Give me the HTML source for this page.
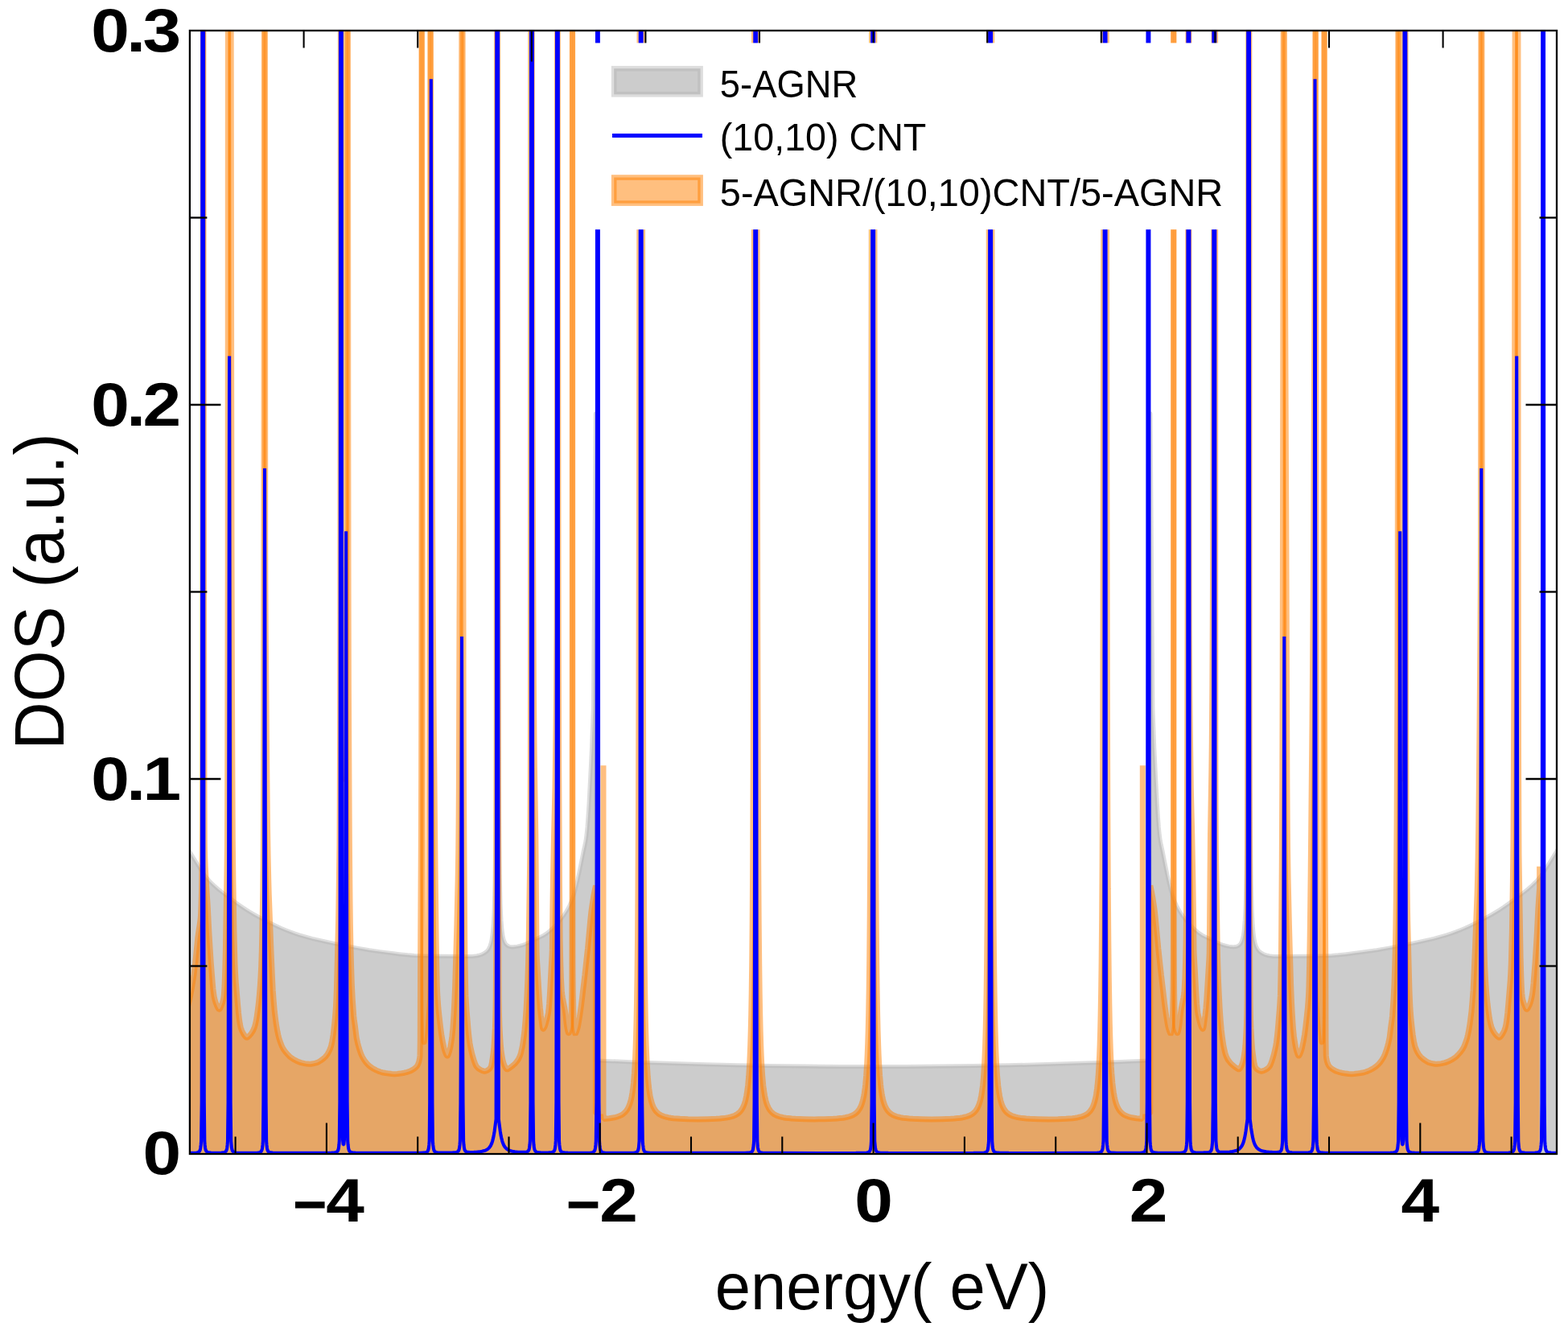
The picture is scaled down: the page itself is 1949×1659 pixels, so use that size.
<!DOCTYPE html>
<html lang="en"><head><meta charset="utf-8"><title>DOS</title>
<style>
html,body{margin:0;padding:0;background:#fff;}
body{width:1949px;height:1659px;overflow:hidden;}
svg{display:block;}
text{fill:#000;}
</style></head><body>
<svg width="1949" height="1659" viewBox="0 0 1949 1659">
<rect width="1949" height="1659" fill="#fff"/>
<defs><clipPath id="c"><rect x="235.9" y="38" width="1699.1" height="1396"/></clipPath></defs>
<g clip-path="url(#c)">
<path d="M226,1453 226,1042.4 247,1076.6 251,1082.8 254,1087.1 257,1091 261,1095.4 263,1097.4 266,1100.3 271,1104.7 275,1107.9 281,1112.6 288,1117.8 295,1122.9 301,1127.1 306,1130.4 311,1133.5 316,1136.5 321,1139.3 329,1143.5 336,1147.1 343,1150.4 349,1153.2 355,1155.7 361,1158.1 366,1159.9 372,1161.9 380,1164.2 388,1166.4 396,1168.3 405,1170.3 415,1172.4 432,1175.8 444,1178.1 459,1180.7 472,1182.6 489,1184.8 498,1185.9 507,1186.8 515,1187.4 521,1187.7 527,1187.9 548,1188.3 583,1188.4 587,1188.4 591,1188.1 593,1187.8 595,1187.3 598,1186.4 601,1185 603,1183.8 604,1183 605,1182.2 606,1181.1 607,1179.8 608,1178 609,1175.8 610,1172.8 611,1168.6 612.2,1160.6 613.2,1149.3 614,1134.4 614.2,1129.2 615,1098.8 615.7,1047.4 616.2,978.4 616.7,846.8 617,705.5 617.7,68.7 618.7,68.4 619.2,564.3 619.7,846 620.2,977.3 620.7,1046.1 621.2,1085.8 622,1121.2 622.2,1127.1 623,1143.7 624,1155.7 625,1162.8 626,1167.2 627,1170.2 628,1172.2 629,1173.6 630,1174.6 631,1175.3 632,1175.8 633,1176.2 634,1176.4 636,1176.7 638,1176.7 640,1176.6 643,1176.1 646,1175.5 650,1174.4 653,1173.3 657,1171.6 665,1167.6 671,1164.8 674,1163.3 676,1162.2 678,1160.9 682,1157.9 684,1156.2 687,1153.5 689,1151.6 691,1149.6 694,1146.2 698,1141.2 701,1137.1 704,1132.5 706,1129 708,1125.1 710,1120.8 712,1115.8 713,1112.9 714,1109.6 715,1105.9 718,1093.2 720,1084.1 725,1058.9 727,1049.9 728,1044.8 729,1037.9 730,1027.7 731,1014.3 732,998.3 734,960.8 735.5,929.8 737.4,880 740.3,514.1 740.9,1318.1 741,1318 789,1319.9 837,1321.6 877,1322.8 917,1323.8 957,1324.5 1001,1325.1 1045,1325.5 1085,1325.6 1125.3,1325.5 1169.3,1325.1 1209.3,1324.6 1253.3,1323.8 1293.3,1322.8 1333.3,1321.6 1381.3,1319.9 1429.3,1318 1429.4,1318.1 1430,514.1 1432.9,880 1434.8,929.8 1436.3,960.8 1438.3,998.3 1439.3,1014.3 1440.3,1027.7 1441.3,1037.9 1442.3,1044.8 1443.3,1049.9 1445.3,1058.9 1449.3,1079.3 1451.3,1088.7 1453.3,1097.6 1455.3,1105.9 1456.3,1109.6 1457.3,1112.9 1458.3,1115.8 1460.3,1120.8 1462.3,1125.1 1464.3,1129 1466.3,1132.5 1468.3,1135.6 1470.3,1138.5 1473.3,1142.5 1477.3,1147.3 1479.3,1149.6 1481.3,1151.6 1483.3,1153.5 1486.3,1156.2 1489.3,1158.7 1491.3,1160.2 1494.3,1162.2 1497.3,1163.8 1504.3,1167.1 1512.3,1171.1 1515.3,1172.5 1517.3,1173.3 1519.3,1174.1 1522.3,1175 1524.3,1175.5 1527.3,1176.1 1529.3,1176.4 1531.3,1176.6 1533.3,1176.7 1535.3,1176.6 1536.3,1176.4 1537.3,1176.2 1538.3,1175.8 1539.3,1175.3 1540.3,1174.6 1541.3,1173.6 1542.1,1172.5 1543.3,1170.2 1544.1,1167.9 1545.3,1162.8 1546.3,1155.7 1547.3,1143.7 1548.1,1127.1 1548.3,1121.2 1549.1,1085.8 1549.6,1046.1 1550.1,977.3 1550.6,846 1551.1,564.3 1551.6,68.4 1552.6,68.7 1553.3,705.5 1553.6,846.8 1554.1,978.4 1554.6,1047.4 1555.3,1098.8 1556.1,1129.2 1556.3,1134.4 1557.1,1149.3 1558.1,1160.6 1559.3,1168.6 1560.3,1172.8 1561.3,1175.8 1562.3,1178 1563.3,1179.8 1564.3,1181.1 1565.3,1182.2 1566.3,1183 1567.3,1183.8 1569.3,1185 1572.3,1186.4 1575.3,1187.3 1577.3,1187.8 1579.3,1188.1 1583.3,1188.4 1587.3,1188.4 1622.3,1188.3 1643.3,1187.9 1649.3,1187.7 1655.3,1187.4 1663.3,1186.8 1672.3,1185.9 1681.3,1184.8 1698.3,1182.6 1711.3,1180.7 1726.3,1178.1 1738.3,1175.8 1755.3,1172.4 1765.3,1170.3 1774.3,1168.3 1782.3,1166.4 1790.3,1164.2 1798.3,1161.9 1804.3,1159.9 1809.3,1158.1 1815.3,1155.7 1821.3,1153.2 1827.3,1150.4 1834.3,1147.1 1841.3,1143.5 1849.3,1139.3 1854.3,1136.5 1859.3,1133.5 1864.3,1130.4 1869.3,1127.1 1875.3,1122.9 1882.3,1117.8 1889.3,1112.6 1895.3,1107.9 1899.3,1104.7 1904.3,1100.3 1907.3,1097.4 1909.3,1095.4 1913.3,1091 1916.3,1087.1 1919.3,1082.8 1923.3,1076.6 1944.3,1042.4 1944.3,1453Z" fill="#808080" fill-opacity="0.4"/>
<path d="M226,1042.4 247,1076.6 251,1082.8 254,1087.1 257,1091 261,1095.4 263,1097.4 266,1100.3 271,1104.7 275,1107.9 281,1112.6 288,1117.8 295,1122.9 301,1127.1 306,1130.4 311,1133.5 316,1136.5 321,1139.3 329,1143.5 336,1147.1 343,1150.4 349,1153.2 355,1155.7 361,1158.1 366,1159.9 372,1161.9 380,1164.2 388,1166.4 396,1168.3 405,1170.3 415,1172.4 432,1175.8 444,1178.1 459,1180.7 472,1182.6 489,1184.8 498,1185.9 507,1186.8 515,1187.4 521,1187.7 527,1187.9 548,1188.3 583,1188.4 587,1188.4 591,1188.1 593,1187.8 595,1187.3 598,1186.4 601,1185 603,1183.8 604,1183 605,1182.2 606,1181.1 607,1179.8 608,1178 609,1175.8 610,1172.8 611,1168.6 612.2,1160.6 613.2,1149.3 614,1134.4 614.2,1129.2 615,1098.8 615.7,1047.4 616.2,978.4 616.7,846.8 617,705.5 617.7,68.7 618.7,68.4 619.2,564.3 619.7,846 620.2,977.3 620.7,1046.1 621.2,1085.8 622,1121.2 622.2,1127.1 623,1143.7 624,1155.7 625,1162.8 626,1167.2 627,1170.2 628,1172.2 629,1173.6 630,1174.6 631,1175.3 632,1175.8 633,1176.2 634,1176.4 636,1176.7 638,1176.7 640,1176.6 643,1176.1 646,1175.5 650,1174.4 653,1173.3 657,1171.6 665,1167.6 671,1164.8 674,1163.3 676,1162.2 678,1160.9 682,1157.9 684,1156.2 687,1153.5 689,1151.6 691,1149.6 694,1146.2 698,1141.2 701,1137.1 704,1132.5 706,1129 708,1125.1 710,1120.8 712,1115.8 713,1112.9 714,1109.6 715,1105.9 718,1093.2 720,1084.1 725,1058.9 727,1049.9 728,1044.8 729,1037.9 730,1027.7 731,1014.3 732,998.3 734,960.8 735.5,929.8 737.4,880 740.3,514.1 740.9,1318.1 741,1318 789,1319.9 837,1321.6 877,1322.8 917,1323.8 957,1324.5 1001,1325.1 1045,1325.5 1085,1325.6 1125.3,1325.5 1169.3,1325.1 1209.3,1324.6 1253.3,1323.8 1293.3,1322.8 1333.3,1321.6 1381.3,1319.9 1429.3,1318 1429.4,1318.1 1430,514.1 1432.9,880 1434.8,929.8 1436.3,960.8 1438.3,998.3 1439.3,1014.3 1440.3,1027.7 1441.3,1037.9 1442.3,1044.8 1443.3,1049.9 1445.3,1058.9 1449.3,1079.3 1451.3,1088.7 1453.3,1097.6 1455.3,1105.9 1456.3,1109.6 1457.3,1112.9 1458.3,1115.8 1460.3,1120.8 1462.3,1125.1 1464.3,1129 1466.3,1132.5 1468.3,1135.6 1470.3,1138.5 1473.3,1142.5 1477.3,1147.3 1479.3,1149.6 1481.3,1151.6 1483.3,1153.5 1486.3,1156.2 1489.3,1158.7 1491.3,1160.2 1494.3,1162.2 1497.3,1163.8 1504.3,1167.1 1512.3,1171.1 1515.3,1172.5 1517.3,1173.3 1519.3,1174.1 1522.3,1175 1524.3,1175.5 1527.3,1176.1 1529.3,1176.4 1531.3,1176.6 1533.3,1176.7 1535.3,1176.6 1536.3,1176.4 1537.3,1176.2 1538.3,1175.8 1539.3,1175.3 1540.3,1174.6 1541.3,1173.6 1542.1,1172.5 1543.3,1170.2 1544.1,1167.9 1545.3,1162.8 1546.3,1155.7 1547.3,1143.7 1548.1,1127.1 1548.3,1121.2 1549.1,1085.8 1549.6,1046.1 1550.1,977.3 1550.6,846 1551.1,564.3 1551.6,68.4 1552.6,68.7 1553.3,705.5 1553.6,846.8 1554.1,978.4 1554.6,1047.4 1555.3,1098.8 1556.1,1129.2 1556.3,1134.4 1557.1,1149.3 1558.1,1160.6 1559.3,1168.6 1560.3,1172.8 1561.3,1175.8 1562.3,1178 1563.3,1179.8 1564.3,1181.1 1565.3,1182.2 1566.3,1183 1567.3,1183.8 1569.3,1185 1572.3,1186.4 1575.3,1187.3 1577.3,1187.8 1579.3,1188.1 1583.3,1188.4 1587.3,1188.4 1622.3,1188.3 1643.3,1187.9 1649.3,1187.7 1655.3,1187.4 1663.3,1186.8 1672.3,1185.9 1681.3,1184.8 1698.3,1182.6 1711.3,1180.7 1726.3,1178.1 1738.3,1175.8 1755.3,1172.4 1765.3,1170.3 1774.3,1168.3 1782.3,1166.4 1790.3,1164.2 1798.3,1161.9 1804.3,1159.9 1809.3,1158.1 1815.3,1155.7 1821.3,1153.2 1827.3,1150.4 1834.3,1147.1 1841.3,1143.5 1849.3,1139.3 1854.3,1136.5 1859.3,1133.5 1864.3,1130.4 1869.3,1127.1 1875.3,1122.9 1882.3,1117.8 1889.3,1112.6 1895.3,1107.9 1899.3,1104.7 1904.3,1100.3 1907.3,1097.4 1909.3,1095.4 1913.3,1091 1916.3,1087.1 1919.3,1082.8 1923.3,1076.6 1944.3,1042.4" fill="none" stroke="#b4b4b4" stroke-opacity="0.45" stroke-width="5" stroke-linejoin="round"/>
<path d="M226,1453 226,1274.9 228.9,1266.3 231.3,1258.5 233.3,1251.1 235.2,1243.8 236.6,1237.3 238.2,1228.5 239.6,1220.3 241,1211.2 242,1202.9 242.8,1196.3 245,1173.3 245.8,1165.4 246.5,1160.1 248.4,1147.9 248.9,1144 249.3,1140.6 249.6,1135.6 250.1,1122.8 250.5,1109.3 250.8,1094.3 251.2,1062.6 251.5,1023.7 251.7,944.7 251.9,832.3 252.2,457.5 252.5,-148 252.8,-148 253,201 253.7,847.4 254,977.1 254.3,1047.2 254.5,1057.1 254.8,1067.2 255.2,1077.5 255.8,1088.5 258.3,1128 259.9,1159.6 261.2,1180.2 262.3,1197.2 264.3,1222.3 264.9,1229.1 265.6,1234.5 266.2,1238.6 267.1,1242.5 268.3,1246.4 269.6,1249.7 270.6,1251.9 271.4,1253.2 271.9,1253.9 272.3,1254.1 272.5,1254.2 272.8,1254.1 273,1254 273.5,1253.3 274.1,1252.2 275.1,1249.9 276.4,1246.4 277.4,1242.7 277.9,1240 278.3,1236.7 278.7,1231.6 279.1,1225 279.8,1204.8 280.4,1181.4 282,1083.1 282.4,1052.2 282.6,1002.7 282.8,923.3 283.2,707.3 283.4,-148 287.1,-148 287.2,67.6 287.4,247.9 287.7,497.6 288,690.6 288.4,837.5 288.9,961.4 289.3,1042.9 289.9,1095.2 290.9,1157.7 291.5,1180 292,1198 292.5,1208.8 293.1,1219.1 293.9,1228.9 295.6,1248.8 296.5,1258.8 297.4,1266.6 298.3,1272.5 299.2,1276.7 299.8,1278.6 300.6,1280.7 301.6,1282.7 302.5,1284.5 304.3,1287.2 305.2,1288.3 306,1289.1 306.5,1289.3 306.8,1289.3 307.2,1289.3 307.7,1289.1 308.7,1288.3 310.3,1286.7 312.2,1284.5 313.4,1282.6 314.6,1280.6 315.5,1278.5 316.4,1276.4 317,1274.3 317.6,1271.9 318.9,1265.4 320.1,1257.1 321.3,1247.5 322.4,1236 323.4,1223.7 324.1,1212.5 324.7,1200.4 325.3,1182.7 325.8,1161.3 326.8,1106.9 327.2,1074.4 327.4,1042.1 327.6,976.4 327.8,879.5 328.2,365.3 328.4,-148 329.4,-148 329.7,569.3 329.7,662.5 329.9,722.9 330.3,785.9 331.3,906.7 331.9,972.4 332.5,1026.4 333.1,1063.7 333.7,1091.1 334.2,1109.8 335.6,1146.7 336.8,1177.4 338.4,1213.8 339.2,1230.5 340.2,1243.9 341.3,1256.8 343.1,1271.1 343.9,1276.1 344.9,1281.8 345.8,1286 346.7,1289.7 347.9,1293.5 349.2,1297.2 350.5,1300.3 351.9,1303 353.6,1305.6 355.7,1308.3 357.9,1310.8 360.1,1312.9 362.7,1314.9 365.2,1316.6 368.3,1318.2 371.4,1319.6 374.3,1320.6 378.7,1321.6 381.7,1322.1 384.3,1322.3 386.4,1322.2 388.9,1321.8 392,1321.1 394.5,1320.4 396.1,1319.6 398,1318.4 400.8,1316.5 402.9,1314.8 404.5,1313.3 405.7,1311.8 407,1310 408.3,1307.7 409.7,1304.9 410.6,1302.7 411.4,1300.4 412.1,1297.6 412.8,1294.2 413.5,1290 414.1,1286 414.7,1281.2 416.3,1266.5 416.9,1258.8 417.4,1252.3 417.9,1241.8 418.4,1229.6 420.1,1164.5 420.6,1144.7 420.9,1127.7 422,1050.1 422.3,996.5 422.6,904.4 422.9,761.4 423,575.2 423.4,-148 424.4,-148 424.5,101.1 424.8,366.9 425.1,582.4 425.5,726.3 425.8,796.9 426.4,865.4 427.4,946.3 427.7,962.8 427.9,966.7 428,968 428.1,966.7 428.3,962.8 428.6,946.3 429.6,865.4 430.2,798.6 430.5,730.2 430.9,574.9 431.2,338.3 431.4,92.4 431.4,-148 432.4,-148 432.6,164.3 432.8,513.1 433.1,738 433.4,857 434.2,1022.6 434.5,1062.6 435,1118.2 435.4,1148.7 435.9,1176.1 436.5,1198.6 437.3,1222.6 438.2,1241 439.7,1262.3 440.2,1266.7 441.5,1276 442.8,1286.6 443.2,1289.7 443.9,1293 444.7,1296.6 445.8,1300.7 446.8,1304.1 447.9,1307.3 448.9,1310.1 450,1312.5 451.2,1314.8 452.7,1317.3 454.6,1319.9 456.6,1322.2 458.4,1324 460.2,1325.5 462.4,1327 464.7,1328.4 467.5,1329.9 470.3,1331.1 472.8,1332 475,1332.7 479.4,1333.5 483.4,1334.1 487,1334.5 490.3,1334.7 493.8,1334.5 497.5,1334.1 502.5,1333.2 506.1,1332.3 509.1,1331.3 511.8,1330 514.3,1328.5 516.5,1326.8 517.9,1325.4 518.9,1323.9 519.9,1321.8 520.7,1319.4 521.4,1316.4 521.8,1313.9 522,1311.2 522.1,1306.6 522.3,1292.7 522.6,1189.2 523.3,1059.3 523.6,963.6 523.8,845.2 524,602.7 524.1,-148 524.3,-148 524.4,129.4 525.2,692.6 525.5,1072.1 525.8,1156 526.2,1231.3 526.4,1258.3 526.8,1282.1 527,1291.8 527.1,1294.1 527.2,1294.9 527.4,1294 527.7,1291.3 528.5,1282.2 529.5,1267 530.7,1249.8 531.1,1243.5 531.3,1237.1 531.9,1212.2 532.6,1172.3 532.9,1146.5 533.1,1115.8 533.8,915.4 534.3,656.7 534.7,224.7 534.8,-148 535.4,-148 535.5,56.8 535.7,181.5 536.5,408.7 537.5,644.6 538.2,762.1 539.3,899.3 541.1,1083.8 542.1,1164.4 542.7,1200.1 543.3,1225.1 543.6,1233.1 543.9,1239.1 544.4,1245.9 544.9,1252.7 546,1263.1 547.6,1276.9 548.8,1285.8 550.1,1293.5 551.7,1301.2 552.3,1303.8 553,1306.1 553.6,1307.7 554.8,1310.7 555.5,1311.7 555.7,1312 556,1312.1 556.2,1312 556.5,1311.8 557,1310.9 557.6,1309.3 558.6,1306.2 559.8,1301.2 560.9,1294.9 561.9,1287.7 562.8,1278.9 563.5,1268.7 564.2,1257.5 564.9,1243.8 565.7,1224.4 567,1180.9 567.9,1148.6 569.2,1092.1 569.8,1054.9 570.1,1023.4 570.4,977 571,774.1 572.7,375 573.4,194.4 573.8,56.3 573.9,-148 575.1,-148 575.2,88.7 575.4,345.5 575.8,649.2 576.1,839.5 576.5,970.2 577,1071.8 577.7,1167.4 578,1195.2 578.4,1216.2 578.7,1229.3 578.9,1237.4 579.4,1245.9 580,1255 581.9,1278 582.8,1287.3 583.9,1295.8 584.5,1299.6 585.3,1303.3 586.9,1310.2 588.9,1317 589.8,1319.7 590.6,1321.8 591.3,1323.5 592.1,1325 592.9,1326 593.8,1327 595,1328 596.2,1328.8 597.6,1329.6 600.1,1330.7 601.3,1331 602.4,1331.2 603.3,1331.1 604.2,1330.8 605.2,1330.4 606.5,1329.8 608,1328.7 609.2,1327.3 610,1326 610.6,1324.4 611.2,1321.8 611.8,1318.4 612.9,1310.5 613.7,1304 614.2,1297.4 614.7,1289.6 615.4,1277.7 615.8,1266.3 616.1,1254.4 616.3,1241.5 616.6,1195.9 616.8,1131.1 617.2,926.1 617.3,617.9 617.5,-148 618.5,-148 618.7,224.5 619.4,920.3 619.8,1151.6 619.9,1203.9 620.1,1240.9 620.4,1258.8 620.9,1274.9 621.4,1284.5 622,1294.2 622.4,1299.4 622.9,1304.4 623.5,1309.2 624.3,1313.9 625,1317.6 625.9,1320.8 626.8,1323.6 628.4,1326.9 628.9,1327.7 629.4,1328.3 629.9,1328.7 630.3,1328.8 631.1,1328.7 632.1,1328.1 635.7,1325.6 637.9,1323.8 639.6,1322.2 641.1,1320.7 642.5,1318.9 643.8,1317.1 644.7,1315.6 645.4,1314.1 646.2,1312.3 646.9,1310.4 647.6,1307.9 648.2,1305.3 649.4,1299.7 650.8,1290.3 652.1,1279.4 653.1,1267.9 654.1,1253.8 655,1237 655.9,1217 656.6,1196.1 657.1,1176.3 658.5,1084.3 658.9,1054.2 659.2,1004.1 659.4,934.9 659.6,728.7 659.8,-148 661.2,-148 661.3,47.8 661.4,148.8 661.7,339.5 662.2,542.8 662.6,680.8 663,774.3 663.4,851.4 664,922.3 664.4,953.8 665.8,1037.3 666.3,1095.8 666.9,1169.3 667.1,1184.2 667.4,1191.7 669.5,1226.6 670.5,1242 671.3,1252.3 672.3,1261.6 673.9,1273.5 674.2,1275.7 674.7,1277.7 675,1278.4 675.2,1278.6 675.5,1278.5 675.8,1278 676.8,1276.4 677.4,1275 678,1273.2 679.8,1266.4 680.7,1262.6 681.4,1259.1 681.9,1255.5 682.6,1248 683.3,1237.8 684,1225.1 685.1,1204.2 686.1,1186.5 686.3,1180.9 686.4,1172.5 686.9,1130.9 687.5,1091.7 688.6,1035.7 690,978.8 691,908.8 691.5,864.8 691.8,822.2 692.1,780.3 692.2,738.8 692.4,465.9 692.5,-148 693.2,-148 693.5,244.4 694.1,733.1 694.4,848.5 694.7,953.7 695.5,1101.6 695.8,1136.1 696.1,1166.8 696.7,1194.5 697.4,1215.6 697.9,1224.3 698.3,1231.5 698.7,1235.4 699.3,1239.6 701.7,1251.9 702.4,1256 703,1260.8 704.1,1271.5 704.7,1275.7 705.4,1279.6 706,1282 706.4,1283.3 706.6,1283.6 706.8,1283.7 707,1283.6 707.3,1283.2 708.1,1281.2 708.7,1279.2 709.2,1277.2 709.4,1275.6 709.6,1273.4 710,1265.9 710.4,1253.3 710.7,1234.2 710.9,1208.3 711,1178.3 711.2,1078.5 711.3,825.4 711.4,-148 711.6,-148 711.7,684.8 711.9,1109.7 711.9,1165.5 712,1200.1 712.3,1232.7 712.7,1255.5 713,1266.6 713.5,1275.3 714.1,1280.3 714.7,1283.5 714.9,1284.4 715,1284.6 715.1,1284.7 715.6,1284.1 716.2,1282.7 716.9,1280.8 718.1,1276.7 719.1,1271.7 720.4,1263.7 722.4,1249.8 726.9,1211.6 730.5,1178.8 733.6,1145.3 735,1132.2 736.2,1123.8 737.5,1115.5 738.9,1107.9 740.5,1100.5 740.6,1383.7 750,1384.6 750,951.3 750,1384.6 750.5,1390.5 757.5,1389.8 760.5,1389.3 763.5,1388.8 766,1388.2 768,1387.5 770,1386.8 772,1385.9 774,1384.7 775.5,1383.5 777,1382.1 778,1381 779,1379.7 780,1378.1 781,1376.3 782,1374 783,1371.3 783.5,1369.6 784.5,1365.8 785,1363.4 786,1357.8 786.5,1354.3 787.5,1345.6 788.5,1333.5 789,1325.7 789.5,1316.1 790,1304.3 790.5,1289.6 791,1270.8 791.5,1246.3 792,1213.7 792.5,1168.7 793,1104.4 793.5,1007.8 794,853.1 794.5,582.3 795,43.3 795.5,-148 798.2,-148 798.7,413.9 799.2,763.9 799.7,955 800.2,1070.7 800.7,1145.8 801.2,1197.5 801.7,1234.4 802.2,1261.8 802.7,1282.6 803.2,1298.8 803.7,1311.6 804.2,1322 805.2,1337.6 806.2,1348.5 806.7,1352.7 807.7,1359.6 808.2,1362.4 809.2,1366.9 809.7,1368.8 810.7,1372.1 811.7,1374.7 812.7,1376.8 813.7,1378.5 815.2,1380.7 816.2,1381.8 817.7,1383.2 819.2,1384.4 821.2,1385.6 823.2,1386.5 825.2,1387.3 827.7,1388 830.7,1388.7 833.7,1389.2 837.2,1389.7 841.2,1390 845.2,1390.3 855.2,1390.7 867.2,1390.9 879.7,1390.7 890.2,1390.3 894.7,1390 898.7,1389.6 902.2,1389.1 905.2,1388.6 908.2,1387.9 910.7,1387.2 912.7,1386.4 914.7,1385.5 916.7,1384.3 918.2,1383.1 919.7,1381.7 920.7,1380.5 922.2,1378.4 923.2,1376.6 924.2,1374.5 925.2,1371.9 926.2,1368.7 926.7,1366.8 927.7,1362.2 928.2,1359.4 929.2,1352.6 929.7,1348.3 930.7,1337.4 931.7,1321.9 932.2,1311.5 932.7,1298.6 933.2,1282.4 933.7,1261.6 934.2,1234.2 934.7,1197.3 935.2,1145.7 935.7,1070.5 936.2,954.9 936.7,763.7 937.2,413.8 937.7,-148 940.7,-148 941.2,413.8 941.7,763.7 942.2,954.9 942.7,1070.5 943.2,1145.7 943.7,1197.3 944.2,1234.2 944.7,1261.6 945.2,1282.4 945.7,1298.6 946.2,1311.5 946.7,1321.9 947.7,1337.4 948.7,1348.3 949.2,1352.6 950.2,1359.4 950.7,1362.2 951.7,1366.8 952.2,1368.7 953.2,1371.9 954.2,1374.5 955.2,1376.6 956.2,1378.4 957.7,1380.5 959.2,1382.2 960.7,1383.5 962.2,1384.6 964.2,1385.7 966.2,1386.6 968.2,1387.3 970.7,1388 973.7,1388.7 976.7,1389.2 980.2,1389.6 984.2,1390 988.7,1390.3 999.7,1390.7 1012.2,1390.9 1024.7,1390.7 1035.7,1390.3 1040.2,1390 1044.2,1389.6 1047.7,1389.2 1050.7,1388.7 1053.7,1388 1056.2,1387.3 1058.2,1386.6 1060.2,1385.7 1062.2,1384.5 1063.7,1383.5 1065.2,1382.1 1066.7,1380.4 1068.2,1378.3 1069.2,1376.5 1070.2,1374.4 1071.2,1371.8 1072.2,1368.5 1072.7,1366.6 1073.7,1361.9 1074.2,1359.1 1075.2,1352.2 1075.7,1347.8 1076.7,1336.8 1077.7,1320.9 1078.2,1310.3 1078.7,1297.2 1079.2,1280.6 1079.7,1259.2 1080.2,1231 1080.7,1192.9 1081.2,1139.4 1081.7,1061.1 1082.2,940 1082.7,738 1083.2,363.5 1083.7,-148 1086.6,-148 1087.1,363.5 1087.6,738 1088.1,940 1088.6,1061.1 1089.1,1139.4 1089.6,1192.9 1090.1,1231 1090.6,1259.2 1091.1,1280.6 1091.6,1297.2 1092.1,1310.3 1092.6,1320.9 1093.6,1336.8 1094.6,1347.8 1095.1,1352.2 1096.1,1359.1 1096.6,1361.9 1097.6,1366.6 1098.1,1368.5 1099.1,1371.8 1100.1,1374.4 1101.1,1376.5 1102.1,1378.3 1103.6,1380.4 1105.1,1382.1 1106.6,1383.5 1108.1,1384.5 1110.1,1385.7 1112.1,1386.6 1114.1,1387.3 1116.6,1388 1119.6,1388.7 1122.6,1389.2 1126.1,1389.6 1130.1,1390 1134.6,1390.3 1145.6,1390.7 1158.1,1390.9 1170.6,1390.7 1181.6,1390.3 1186.1,1390 1190.1,1389.6 1193.6,1389.2 1196.6,1388.7 1199.6,1388 1202.1,1387.3 1204.1,1386.6 1206.1,1385.7 1208.1,1384.6 1209.6,1383.5 1211.1,1382.2 1212.6,1380.5 1214.1,1378.4 1215.1,1376.6 1216.1,1374.5 1217.1,1371.9 1218.1,1368.7 1218.6,1366.8 1219.6,1362.2 1220.1,1359.4 1221.1,1352.6 1221.6,1348.3 1222.6,1337.4 1223.6,1321.9 1224.1,1311.5 1224.6,1298.6 1225.1,1282.4 1225.6,1261.6 1226.1,1234.2 1226.6,1197.3 1227.1,1145.7 1227.6,1070.5 1228.1,954.9 1228.6,763.7 1229.1,413.8 1229.6,-148 1232.6,-148 1233.1,413.8 1233.6,763.7 1234.1,954.9 1234.6,1070.5 1235.1,1145.7 1235.6,1197.3 1236.1,1234.2 1236.6,1261.6 1237.1,1282.4 1237.6,1298.6 1238.1,1311.5 1238.6,1321.9 1239.6,1337.4 1240.6,1348.3 1241.1,1352.6 1242.1,1359.4 1242.6,1362.2 1243.6,1366.8 1244.1,1368.7 1245.1,1371.9 1246.1,1374.5 1247.1,1376.6 1248.1,1378.4 1249.6,1380.5 1250.6,1381.7 1252.1,1383.1 1253.6,1384.3 1255.6,1385.5 1257.6,1386.4 1259.6,1387.2 1262.1,1387.9 1265.1,1388.6 1268.1,1389.1 1271.6,1389.6 1275.6,1390 1280.1,1390.3 1290.6,1390.7 1303.1,1390.9 1315.1,1390.7 1325.1,1390.3 1329.1,1390 1333.1,1389.7 1336.6,1389.2 1339.6,1388.7 1342.6,1388 1345.1,1387.3 1347.1,1386.5 1349.1,1385.6 1351.1,1384.4 1352.6,1383.2 1354.1,1381.8 1355.1,1380.7 1356.6,1378.5 1357.6,1376.8 1358.6,1374.7 1359.6,1372.1 1360.6,1368.8 1361.1,1366.9 1362.1,1362.4 1362.6,1359.6 1363.6,1352.7 1364.1,1348.5 1365.1,1337.6 1366.1,1322 1366.6,1311.6 1367.1,1298.8 1367.6,1282.6 1368.1,1261.8 1368.6,1234.4 1369.1,1197.5 1369.6,1145.8 1370.1,1070.7 1370.6,955 1371.1,763.9 1371.6,413.9 1372.1,-148 1374.8,-148 1375.3,43.3 1375.8,582.3 1376.3,853.1 1376.8,1007.8 1377.3,1104.4 1377.8,1168.7 1378.3,1213.7 1378.8,1246.3 1379.3,1270.8 1379.8,1289.6 1380.3,1304.3 1380.8,1316.1 1381.3,1325.7 1381.8,1333.5 1382.8,1345.6 1383.8,1354.3 1384.3,1357.8 1385.3,1363.4 1385.8,1365.8 1386.8,1369.6 1387.3,1371.3 1388.3,1374 1389.3,1376.3 1390.3,1378.1 1391.3,1379.7 1392.3,1381 1393.3,1382.1 1394.8,1383.5 1396.3,1384.7 1398.3,1385.9 1400.3,1386.8 1402.3,1387.5 1404.3,1388.2 1406.8,1388.8 1409.8,1389.3 1412.8,1389.8 1419.8,1390.5 1420.3,1384.6 1420.3,951.3 1420.4,1384.6 1429.7,1383.7 1429.8,1100.5 1431.4,1107.9 1432.8,1115.5 1434.1,1123.8 1435.3,1132.2 1436.7,1145.3 1439.8,1178.8 1443.4,1211.6 1447.9,1249.8 1449.9,1263.7 1451.2,1271.7 1452.2,1276.7 1453.4,1280.8 1454.1,1282.7 1454.7,1284.1 1455.2,1284.7 1455.3,1284.6 1455.4,1284.4 1455.6,1283.5 1456.2,1280.3 1456.8,1275.3 1457.3,1266.6 1457.6,1255.5 1458,1232.7 1458.3,1200.1 1458.4,1165.5 1458.4,1109.7 1458.6,684.8 1458.7,-148 1458.9,-148 1459,825.4 1459.1,1078.5 1459.3,1178.3 1459.4,1208.3 1459.6,1234.2 1459.9,1253.3 1460.3,1265.9 1460.7,1273.4 1460.9,1275.6 1461.1,1277.2 1461.6,1279.2 1462.2,1281.2 1463,1283.2 1463.3,1283.6 1463.5,1283.7 1463.7,1283.6 1463.9,1283.3 1464.3,1282 1464.9,1279.6 1465.6,1275.7 1466.2,1271.5 1467.3,1260.8 1467.9,1256 1468.6,1251.9 1471,1239.6 1471.6,1235.4 1472,1231.5 1472.4,1224.3 1472.9,1215.6 1473.6,1194.5 1474.2,1166.8 1474.5,1136.1 1474.8,1101.6 1475.6,953.7 1475.9,848.5 1476.2,733.1 1476.8,244.4 1477.1,-148 1477.8,-148 1477.9,465.9 1478.1,738.8 1478.2,780.3 1478.5,822.2 1478.8,864.8 1479.3,908.8 1480.3,978.8 1481.7,1035.7 1482.8,1091.7 1483.4,1130.9 1483.9,1172.5 1484,1180.9 1484.2,1186.5 1485.2,1204.2 1486.3,1225.1 1487,1237.8 1487.7,1248 1488.4,1255.5 1488.9,1259.1 1489.6,1262.6 1490.5,1266.4 1492.3,1273.2 1492.9,1275 1493.5,1276.4 1494.5,1278 1494.8,1278.5 1495.1,1278.6 1495.3,1278.4 1495.6,1277.7 1496.1,1275.7 1496.4,1273.5 1498,1261.6 1499,1252.3 1499.8,1242 1500.8,1226.6 1502.9,1191.7 1503.2,1184.2 1503.4,1169.3 1504,1095.8 1504.5,1037.3 1505.9,953.8 1506.3,922.3 1506.9,851.4 1507.3,774.3 1507.7,680.8 1508.1,542.8 1508.6,339.5 1508.9,148.8 1509,47.8 1509.1,-148 1510.6,-148 1510.7,728.7 1510.9,934.9 1511.1,1004.1 1511.4,1054.2 1511.8,1084.3 1513.2,1176.3 1513.7,1196.1 1514.4,1217 1515.3,1237 1516.2,1253.8 1517.2,1267.9 1518.2,1279.4 1519.5,1290.3 1520.9,1299.7 1522.1,1305.3 1522.7,1307.9 1523.4,1310.4 1524.1,1312.3 1524.9,1314.1 1525.6,1315.6 1526.5,1317.1 1527.8,1318.9 1529.2,1320.7 1530.7,1322.2 1532.4,1323.8 1534.6,1325.6 1538.2,1328.1 1539.2,1328.7 1540,1328.8 1540.4,1328.7 1540.9,1328.3 1541.4,1327.7 1541.9,1326.9 1543.5,1323.6 1544.4,1320.8 1545.3,1317.6 1546,1313.9 1546.8,1309.2 1547.4,1304.4 1547.9,1299.4 1548.3,1294.2 1548.9,1284.5 1549.4,1274.9 1549.9,1258.8 1550.2,1240.9 1550.4,1203.9 1550.5,1151.6 1550.9,920.3 1551.6,224.5 1551.8,-148 1552.8,-148 1553,617.9 1553.1,926.1 1553.5,1131.1 1553.7,1195.9 1554,1241.5 1554.2,1254.4 1554.5,1266.3 1554.9,1277.7 1555.6,1289.6 1556.1,1297.4 1556.6,1304 1557.4,1310.5 1558.5,1318.4 1559.1,1321.8 1559.7,1324.4 1560.3,1326 1561.1,1327.3 1562.3,1328.7 1563.8,1329.8 1565.1,1330.4 1566.1,1330.8 1567,1331.1 1567.9,1331.2 1569,1331 1570.2,1330.7 1572.7,1329.6 1574.1,1328.8 1575.3,1328 1576.5,1327 1577.4,1326 1578.2,1325 1579,1323.5 1579.7,1321.8 1580.5,1319.7 1581.4,1317 1583.4,1310.2 1585,1303.3 1585.8,1299.6 1586.4,1295.8 1587.5,1287.3 1588.4,1278 1590.3,1255 1590.9,1245.9 1591.4,1237.4 1591.6,1229.3 1591.9,1216.2 1592.3,1195.2 1592.6,1167.4 1593.3,1071.8 1593.8,970.2 1594.2,839.5 1594.5,649.2 1594.9,345.5 1595.1,88.7 1595.2,-148 1596.4,-148 1596.5,56.3 1596.9,194.4 1597.6,375 1599.3,774.1 1599.9,977 1600.2,1023.4 1600.5,1054.9 1601.1,1092.1 1602.4,1148.6 1603.3,1180.9 1604.6,1224.4 1605.4,1243.8 1606.1,1257.5 1606.8,1268.7 1607.5,1278.9 1608.4,1287.7 1609.4,1294.9 1610.5,1301.2 1611.7,1306.2 1612.7,1309.3 1613.3,1310.9 1613.8,1311.8 1614.1,1312 1614.3,1312.1 1614.6,1312 1614.8,1311.7 1615.5,1310.7 1616.7,1307.7 1617.3,1306.1 1618,1303.8 1618.6,1301.2 1620.2,1293.5 1621.5,1285.8 1622.7,1276.9 1624.3,1263.1 1625.4,1252.7 1625.9,1245.9 1626.4,1239.1 1626.7,1233.1 1627,1225.1 1627.6,1200.1 1628.2,1164.4 1629.2,1083.8 1631,899.3 1632.1,762.1 1632.8,644.6 1633.8,408.7 1634.6,181.5 1634.8,56.8 1634.9,-148 1635.5,-148 1635.6,224.7 1636,656.7 1636.5,915.4 1637.2,1115.8 1637.4,1146.5 1637.7,1172.3 1638.4,1212.2 1639,1237.1 1639.2,1243.5 1639.6,1249.8 1640.8,1267 1641.8,1282.2 1642.6,1291.3 1642.9,1294 1643.1,1294.9 1643.2,1294.1 1643.3,1291.8 1643.5,1282.1 1643.9,1258.3 1644.1,1231.3 1644.5,1156 1644.8,1072.1 1645.1,692.6 1645.9,129.4 1646,-148 1646.2,-148 1646.3,602.7 1646.5,845.2 1646.7,963.6 1647,1059.3 1647.7,1189.2 1648,1292.7 1648.2,1306.6 1648.3,1311.2 1648.5,1313.9 1648.9,1316.4 1649.6,1319.4 1650.4,1321.8 1651.4,1323.9 1652.4,1325.4 1653.8,1326.8 1656,1328.5 1658.5,1330 1661.2,1331.3 1664.2,1332.3 1667.8,1333.2 1672.8,1334.1 1676.5,1334.5 1680,1334.7 1683.3,1334.5 1686.9,1334.1 1690.9,1333.5 1695.3,1332.7 1697.5,1332 1700,1331.1 1702.8,1329.9 1705.6,1328.4 1707.9,1327 1710.1,1325.5 1711.9,1324 1713.7,1322.2 1715.7,1319.9 1717.6,1317.3 1719.1,1314.8 1720.3,1312.5 1721.4,1310.1 1722.4,1307.3 1723.5,1304.1 1724.5,1300.7 1725.6,1296.6 1726.4,1293 1727.1,1289.7 1727.5,1286.6 1728.8,1276 1730.1,1266.7 1730.6,1262.3 1732.1,1241 1733,1222.6 1733.8,1198.6 1734.4,1176.1 1734.9,1148.7 1735.3,1118.2 1735.8,1062.6 1736.1,1022.6 1736.9,857 1737.2,738 1737.5,513.1 1737.7,164.3 1737.9,-148 1738.9,-148 1738.9,92.4 1739.1,338.3 1739.4,574.9 1739.8,730.2 1740.1,798.6 1740.7,865.4 1741.7,946.3 1742,962.8 1742.2,966.7 1742.3,968 1742.4,966.7 1742.6,962.8 1742.9,946.3 1743.9,865.4 1744.5,796.9 1744.8,726.3 1745.2,582.4 1745.5,366.9 1745.8,101.1 1745.9,-148 1747,-148 1747.3,575.2 1747.4,761.4 1747.7,904.4 1748,996.5 1748.3,1050.1 1749.4,1127.7 1749.7,1144.7 1750.2,1164.5 1751.9,1229.6 1752.4,1241.8 1752.9,1252.3 1753.4,1258.8 1754,1266.5 1755.6,1281.2 1756.2,1286 1756.8,1290 1757.5,1294.2 1758.2,1297.6 1758.9,1300.4 1759.7,1302.7 1760.6,1304.9 1762,1307.7 1763.3,1310 1764.6,1311.8 1765.8,1313.3 1767.4,1314.8 1769.5,1316.5 1772.3,1318.4 1774.2,1319.6 1775.8,1320.4 1778.3,1321.1 1781.4,1321.8 1783.9,1322.2 1786,1322.3 1788.6,1322.1 1791.6,1321.6 1796,1320.6 1798.9,1319.6 1802,1318.2 1805.1,1316.6 1807.6,1314.9 1810.2,1312.9 1812.4,1310.8 1814.6,1308.3 1816.7,1305.6 1818.4,1303 1819.8,1300.3 1821.1,1297.2 1822.4,1293.5 1823.6,1289.7 1824.5,1286 1825.4,1281.8 1826.4,1276.1 1827.2,1271.1 1829,1256.8 1830.1,1243.9 1831.1,1230.5 1831.9,1213.8 1833.5,1177.4 1834.7,1146.7 1836.1,1109.8 1836.6,1091.1 1837.2,1063.7 1837.8,1026.4 1838.4,972.4 1839,906.7 1840,785.9 1840.4,722.9 1840.6,662.5 1840.6,569.3 1840.9,-148 1841.9,-148 1842.1,365.3 1842.5,879.5 1842.7,976.4 1842.9,1042.1 1843.1,1074.4 1843.5,1106.9 1844.5,1161.3 1845,1182.7 1845.6,1200.4 1846.2,1212.5 1846.9,1223.7 1847.9,1236 1849,1247.5 1850.2,1257.1 1851.4,1265.4 1852.7,1271.9 1853.3,1274.3 1853.9,1276.4 1854.8,1278.5 1855.7,1280.6 1856.9,1282.6 1858.1,1284.5 1860,1286.7 1861.6,1288.3 1862.6,1289.1 1863.1,1289.3 1863.5,1289.3 1863.8,1289.3 1864.3,1289.1 1865.1,1288.3 1866,1287.2 1867.8,1284.5 1868.7,1282.7 1869.7,1280.7 1870.5,1278.6 1871.1,1276.7 1872,1272.5 1872.9,1266.6 1873.8,1258.8 1874.7,1248.8 1876.4,1228.9 1877.2,1219.1 1877.8,1208.8 1878.3,1198 1878.8,1180 1879.4,1157.7 1880.4,1095.2 1881,1042.9 1881.4,961.4 1881.9,837.5 1882.3,690.6 1882.6,497.6 1882.9,247.9 1883.1,67.6 1883.2,-148 1886.9,-148 1887.1,633.1 1887.3,798.3 1887.5,936.9 1887.8,1019.8 1888,1061.9 1888.4,1087.2 1890.1,1189.7 1890.8,1213.9 1891.4,1229.1 1891.8,1234.8 1892.3,1239.2 1892.7,1242 1893.4,1244.6 1894.6,1248.3 1896.3,1252.5 1896.9,1253.4 1897.3,1254 1897.7,1254.2 1898,1254.1 1898.6,1253.7 1899.3,1252.6 1900.6,1249.9 1901.3,1248.4 1902,1246.4 1902.7,1244.2 1903.8,1239.6 1904.4,1236.4 1905,1232.3 1906.1,1221.5 1908.2,1194.5 1909.6,1172.5 1910.5,1156.9 1911.9,1128.5 1913.6,1103.5 1913.6,1076.8 1913.6,1453Z" fill="#ff8000" fill-opacity="0.5"/>
<g fill="none" stroke="#ff8000" stroke-opacity="0.5" stroke-width="7" stroke-linejoin="round">
<path d="M226,1274.9 228.9,1266.3 231.3,1258.5 233.3,1251.1 235.2,1243.8 236.6,1237.3 238.2,1228.5 239.6,1220.3 241,1211.2 242,1202.9 242.8,1196.3 245,1173.3 245.8,1165.4 246.5,1160.1 248.4,1147.9 248.9,1144 249.3,1140.6 249.6,1135.6 250.1,1122.8 250.5,1109.3 250.8,1094.3 251.2,1062.6 251.5,1023.7 251.7,944.7 251.9,832.3 252.2,457.5 252.5,-148"/>
<path d="M252.8,-148 253,201 253.7,847.4 254,977.1 254.3,1047.2 254.5,1057.1 254.8,1067.2 255.2,1077.5 255.8,1088.5 258.3,1128 259.9,1159.6 261.2,1180.2 262.3,1197.2 264.3,1222.3 264.9,1229.1 265.6,1234.5 266.2,1238.6 267.1,1242.5 268.3,1246.4 269.6,1249.7 270.6,1251.9 271.4,1253.2 271.9,1253.9 272.3,1254.1 272.5,1254.2 272.8,1254.1 273,1254 273.5,1253.3 274.1,1252.2 275.1,1249.9 276.4,1246.4 277.4,1242.7 277.9,1240 278.3,1236.7 278.7,1231.6 279.1,1225 279.8,1204.8 280.4,1181.4 282,1083.1 282.4,1052.2 282.6,1002.7 282.8,923.3 283.2,707.3 283.4,-148"/>
<path d="M287.1,-148 287.2,67.6 287.4,247.9 287.7,497.6 288,690.6 288.4,837.5 288.9,961.4 289.3,1042.9 289.9,1095.2 290.9,1157.7 291.5,1180 292,1198 292.5,1208.8 293.1,1219.1 293.9,1228.9 295.6,1248.8 296.5,1258.8 297.4,1266.6 298.3,1272.5 299.2,1276.7 299.8,1278.6 300.6,1280.7 301.6,1282.7 302.5,1284.5 304.3,1287.2 305.2,1288.3 306,1289.1 306.5,1289.3 306.8,1289.3 307.2,1289.3 307.7,1289.1 308.7,1288.3 310.3,1286.7 312.2,1284.5 313.4,1282.6 314.6,1280.6 315.5,1278.5 316.4,1276.4 317,1274.3 317.6,1271.9 318.9,1265.4 320.1,1257.1 321.3,1247.5 322.4,1236 323.4,1223.7 324.1,1212.5 324.7,1200.4 325.3,1182.7 325.8,1161.3 326.8,1106.9 327.2,1074.4 327.4,1042.1 327.6,976.4 327.8,879.5 328.2,365.3 328.4,-148"/>
<path d="M329.4,-148 329.7,569.3 329.7,662.5 329.9,722.9 330.3,785.9 331.3,906.7 331.9,972.4 332.5,1026.4 333.1,1063.7 333.7,1091.1 334.2,1109.8 335.6,1146.7 336.8,1177.4 338.4,1213.8 339.2,1230.5 340.2,1243.9 341.3,1256.8 343.1,1271.1 343.9,1276.1 344.9,1281.8 345.8,1286 346.7,1289.7 347.9,1293.5 349.2,1297.2 350.5,1300.3 351.9,1303 353.6,1305.6 355.7,1308.3 357.9,1310.8 360.1,1312.9 362.7,1314.9 365.2,1316.6 368.3,1318.2 371.4,1319.6 374.3,1320.6 378.7,1321.6 381.7,1322.1 384.3,1322.3 386.4,1322.2 388.9,1321.8 392,1321.1 394.5,1320.4 396.1,1319.6 398,1318.4 400.8,1316.5 402.9,1314.8 404.5,1313.3 405.7,1311.8 407,1310 408.3,1307.7 409.7,1304.9 410.6,1302.7 411.4,1300.4 412.1,1297.6 412.8,1294.2 413.5,1290 414.1,1286 414.7,1281.2 416.3,1266.5 416.9,1258.8 417.4,1252.3 417.9,1241.8 418.4,1229.6 420.1,1164.5 420.6,1144.7 420.9,1127.7 422,1050.1 422.3,996.5 422.6,904.4 422.9,761.4 423,575.2 423.4,-148"/>
<path d="M424.4,-148 424.5,101.1 424.8,366.9 425.1,582.4 425.5,726.3 425.8,796.9 426.4,865.4 427.4,946.3 427.7,962.8 427.9,966.7 428,968 428.1,966.7 428.3,962.8 428.6,946.3 429.6,865.4 430.2,798.6 430.5,730.2 430.9,574.9 431.2,338.3 431.4,92.4 431.4,-148"/>
<path d="M432.4,-148 432.6,164.3 432.8,513.1 433.1,738 433.4,857 434.2,1022.6 434.5,1062.6 435,1118.2 435.4,1148.7 435.9,1176.1 436.5,1198.6 437.3,1222.6 438.2,1241 439.7,1262.3 440.2,1266.7 441.5,1276 442.8,1286.6 443.2,1289.7 443.9,1293 444.7,1296.6 445.8,1300.7 446.8,1304.1 447.9,1307.3 448.9,1310.1 450,1312.5 451.2,1314.8 452.7,1317.3 454.6,1319.9 456.6,1322.2 458.4,1324 460.2,1325.5 462.4,1327 464.7,1328.4 467.5,1329.9 470.3,1331.1 472.8,1332 475,1332.7 479.4,1333.5 483.4,1334.1 487,1334.5 490.3,1334.7 493.8,1334.5 497.5,1334.1 502.5,1333.2 506.1,1332.3 509.1,1331.3 511.8,1330 514.3,1328.5 516.5,1326.8 517.9,1325.4 518.9,1323.9 519.9,1321.8 520.7,1319.4 521.4,1316.4 521.8,1313.9 522,1311.2 522.1,1306.6 522.3,1292.7 522.6,1189.2 523.3,1059.3 523.6,963.6 523.8,845.2 524,602.7 524.1,-148"/>
<path d="M524.3,-148 524.4,129.4 525.2,692.6 525.5,1072.1 525.8,1156 526.2,1231.3 526.4,1258.3 526.8,1282.1 527,1291.8 527.1,1294.1 527.2,1294.9 527.4,1294 527.7,1291.3 528.5,1282.2 529.5,1267 530.7,1249.8 531.1,1243.5 531.3,1237.1 531.9,1212.2 532.6,1172.3 532.9,1146.5 533.1,1115.8 533.8,915.4 534.3,656.7 534.7,224.7 534.8,-148"/>
<path d="M535.4,-148 535.5,56.8 535.7,181.5 536.5,408.7 537.5,644.6 538.2,762.1 539.3,899.3 541.1,1083.8 542.1,1164.4 542.7,1200.1 543.3,1225.1 543.6,1233.1 543.9,1239.1 544.4,1245.9 544.9,1252.7 546,1263.1 547.6,1276.9 548.8,1285.8 550.1,1293.5 551.7,1301.2 552.3,1303.8 553,1306.1 553.6,1307.7 554.8,1310.7 555.5,1311.7 555.7,1312 556,1312.1 556.2,1312 556.5,1311.8 557,1310.9 557.6,1309.3 558.6,1306.2 559.8,1301.2 560.9,1294.9 561.9,1287.7 562.8,1278.9 563.5,1268.7 564.2,1257.5 564.9,1243.8 565.7,1224.4 567,1180.9 567.9,1148.6 569.2,1092.1 569.8,1054.9 570.1,1023.4 570.4,977 571,774.1 572.7,375 573.4,194.4 573.8,56.3 573.9,-148"/>
<path d="M575.1,-148 575.2,88.7 575.4,345.5 575.8,649.2 576.1,839.5 576.5,970.2 577,1071.8 577.7,1167.4 578,1195.2 578.4,1216.2 578.7,1229.3 578.9,1237.4 579.4,1245.9 580,1255 581.9,1278 582.8,1287.3 583.9,1295.8 584.5,1299.6 585.3,1303.3 586.9,1310.2 588.9,1317 589.8,1319.7 590.6,1321.8 591.3,1323.5 592.1,1325 592.9,1326 593.8,1327 595,1328 596.2,1328.8 597.6,1329.6 600.1,1330.7 601.3,1331 602.4,1331.2 603.3,1331.1 604.2,1330.8 605.2,1330.4 606.5,1329.8 608,1328.7 609.2,1327.3 610,1326 610.6,1324.4 611.2,1321.8 611.8,1318.4 612.9,1310.5 613.7,1304 614.2,1297.4 614.7,1289.6 615.4,1277.7 615.8,1266.3 616.1,1254.4 616.3,1241.5 616.6,1195.9 616.8,1131.1 617.2,926.1 617.3,617.9 617.5,-148"/>
<path d="M618.5,-148 618.7,224.5 619.4,920.3 619.8,1151.6 619.9,1203.9 620.1,1240.9 620.4,1258.8 620.9,1274.9 621.4,1284.5 622,1294.2 622.4,1299.4 622.9,1304.4 623.5,1309.2 624.3,1313.9 625,1317.6 625.9,1320.8 626.8,1323.6 628.4,1326.9 628.9,1327.7 629.4,1328.3 629.9,1328.7 630.3,1328.8 631.1,1328.7 632.1,1328.1 635.7,1325.6 637.9,1323.8 639.6,1322.2 641.1,1320.7 642.5,1318.9 643.8,1317.1 644.7,1315.6 645.4,1314.1 646.2,1312.3 646.9,1310.4 647.6,1307.9 648.2,1305.3 649.4,1299.7 650.8,1290.3 652.1,1279.4 653.1,1267.9 654.1,1253.8 655,1237 655.9,1217 656.6,1196.1 657.1,1176.3 658.5,1084.3 658.9,1054.2 659.2,1004.1 659.4,934.9 659.6,728.7 659.8,-148"/>
<path d="M661.2,-148 661.3,47.8 661.4,148.8 661.7,339.5 662.2,542.8 662.6,680.8 663,774.3 663.4,851.4 664,922.3 664.4,953.8 665.8,1037.3 666.3,1095.8 666.9,1169.3 667.1,1184.2 667.4,1191.7 669.5,1226.6 670.5,1242 671.3,1252.3 672.3,1261.6 673.9,1273.5 674.2,1275.7 674.7,1277.7 675,1278.4 675.2,1278.6 675.5,1278.5 675.8,1278 676.8,1276.4 677.4,1275 678,1273.2 679.8,1266.4 680.7,1262.6 681.4,1259.1 681.9,1255.5 682.6,1248 683.3,1237.8 684,1225.1 685.1,1204.2 686.1,1186.5 686.3,1180.9 686.4,1172.5 686.9,1130.9 687.5,1091.7 688.6,1035.7 690,978.8 691,908.8 691.5,864.8 691.8,822.2 692.1,780.3 692.2,738.8 692.4,465.9 692.5,-148"/>
<path d="M693.2,-148 693.5,244.4 694.1,733.1 694.4,848.5 694.7,953.7 695.5,1101.6 695.8,1136.1 696.1,1166.8 696.7,1194.5 697.4,1215.6 697.9,1224.3 698.3,1231.5 698.7,1235.4 699.3,1239.6 701.7,1251.9 702.4,1256 703,1260.8 704.1,1271.5 704.7,1275.7 705.4,1279.6 706,1282 706.4,1283.3 706.6,1283.6 706.8,1283.7 707,1283.6 707.3,1283.2 708.1,1281.2 708.7,1279.2 709.2,1277.2 709.4,1275.6 709.6,1273.4 710,1265.9 710.4,1253.3 710.7,1234.2 710.9,1208.3 711,1178.3 711.2,1078.5 711.3,825.4 711.4,-148"/>
<path d="M711.6,-148 711.7,684.8 711.9,1109.7 711.9,1165.5 712,1200.1 712.3,1232.7 712.7,1255.5 713,1266.6 713.5,1275.3 714.1,1280.3 714.7,1283.5 714.9,1284.4 715,1284.6 715.1,1284.7 715.6,1284.1 716.2,1282.7 716.9,1280.8 718.1,1276.7 719.1,1271.7 720.4,1263.7 722.4,1249.8 726.9,1211.6 730.5,1178.8 733.6,1145.3 735,1132.2 736.2,1123.8 737.5,1115.5 738.9,1107.9 740.5,1100.5 740.6,1383.7 750,1384.6 750,951.3 750,1384.6 750.5,1390.5 757.5,1389.8 760.5,1389.3 763.5,1388.8 766,1388.2 768,1387.5 770,1386.8 772,1385.9 774,1384.7 775.5,1383.5 777,1382.1 778,1381 779,1379.7 780,1378.1 781,1376.3 782,1374 783,1371.3 783.5,1369.6 784.5,1365.8 785,1363.4 786,1357.8 786.5,1354.3 787.5,1345.6 788.5,1333.5 789,1325.7 789.5,1316.1 790,1304.3 790.5,1289.6 791,1270.8 791.5,1246.3 792,1213.7 792.5,1168.7 793,1104.4 793.5,1007.8 794,853.1 794.5,582.3 795,43.3 795.5,-148" stroke-linejoin="bevel"/>
<path d="M798.2,-148 798.7,413.9 799.2,763.9 799.7,955 800.2,1070.7 800.7,1145.8 801.2,1197.5 801.7,1234.4 802.2,1261.8 802.7,1282.6 803.2,1298.8 803.7,1311.6 804.2,1322 805.2,1337.6 806.2,1348.5 806.7,1352.7 807.7,1359.6 808.2,1362.4 809.2,1366.9 809.7,1368.8 810.7,1372.1 811.7,1374.7 812.7,1376.8 813.7,1378.5 815.2,1380.7 816.2,1381.8 817.7,1383.2 819.2,1384.4 821.2,1385.6 823.2,1386.5 825.2,1387.3 827.7,1388 830.7,1388.7 833.7,1389.2 837.2,1389.7 841.2,1390 845.2,1390.3 855.2,1390.7 867.2,1390.9 879.7,1390.7 890.2,1390.3 894.7,1390 898.7,1389.6 902.2,1389.1 905.2,1388.6 908.2,1387.9 910.7,1387.2 912.7,1386.4 914.7,1385.5 916.7,1384.3 918.2,1383.1 919.7,1381.7 920.7,1380.5 922.2,1378.4 923.2,1376.6 924.2,1374.5 925.2,1371.9 926.2,1368.7 926.7,1366.8 927.7,1362.2 928.2,1359.4 929.2,1352.6 929.7,1348.3 930.7,1337.4 931.7,1321.9 932.2,1311.5 932.7,1298.6 933.2,1282.4 933.7,1261.6 934.2,1234.2 934.7,1197.3 935.2,1145.7 935.7,1070.5 936.2,954.9 936.7,763.7 937.2,413.8 937.7,-148"/>
<path d="M940.7,-148 941.2,413.8 941.7,763.7 942.2,954.9 942.7,1070.5 943.2,1145.7 943.7,1197.3 944.2,1234.2 944.7,1261.6 945.2,1282.4 945.7,1298.6 946.2,1311.5 946.7,1321.9 947.7,1337.4 948.7,1348.3 949.2,1352.6 950.2,1359.4 950.7,1362.2 951.7,1366.8 952.2,1368.7 953.2,1371.9 954.2,1374.5 955.2,1376.6 956.2,1378.4 957.7,1380.5 959.2,1382.2 960.7,1383.5 962.2,1384.6 964.2,1385.7 966.2,1386.6 968.2,1387.3 970.7,1388 973.7,1388.7 976.7,1389.2 980.2,1389.6 984.2,1390 988.7,1390.3 999.7,1390.7 1012.2,1390.9 1024.7,1390.7 1035.7,1390.3 1040.2,1390 1044.2,1389.6 1047.7,1389.2 1050.7,1388.7 1053.7,1388 1056.2,1387.3 1058.2,1386.6 1060.2,1385.7 1062.2,1384.5 1063.7,1383.5 1065.2,1382.1 1066.7,1380.4 1068.2,1378.3 1069.2,1376.5 1070.2,1374.4 1071.2,1371.8 1072.2,1368.5 1072.7,1366.6 1073.7,1361.9 1074.2,1359.1 1075.2,1352.2 1075.7,1347.8 1076.7,1336.8 1077.7,1320.9 1078.2,1310.3 1078.7,1297.2 1079.2,1280.6 1079.7,1259.2 1080.2,1231 1080.7,1192.9 1081.2,1139.4 1081.7,1061.1 1082.2,940 1082.7,738 1083.2,363.5 1083.7,-148"/>
<path d="M1086.6,-148 1087.1,363.5 1087.6,738 1088.1,940 1088.6,1061.1 1089.1,1139.4 1089.6,1192.9 1090.1,1231 1090.6,1259.2 1091.1,1280.6 1091.6,1297.2 1092.1,1310.3 1092.6,1320.9 1093.6,1336.8 1094.6,1347.8 1095.1,1352.2 1096.1,1359.1 1096.6,1361.9 1097.6,1366.6 1098.1,1368.5 1099.1,1371.8 1100.1,1374.4 1101.1,1376.5 1102.1,1378.3 1103.6,1380.4 1105.1,1382.1 1106.6,1383.5 1108.1,1384.5 1110.1,1385.7 1112.1,1386.6 1114.1,1387.3 1116.6,1388 1119.6,1388.7 1122.6,1389.2 1126.1,1389.6 1130.1,1390 1134.6,1390.3 1145.6,1390.7 1158.1,1390.9 1170.6,1390.7 1181.6,1390.3 1186.1,1390 1190.1,1389.6 1193.6,1389.2 1196.6,1388.7 1199.6,1388 1202.1,1387.3 1204.1,1386.6 1206.1,1385.7 1208.1,1384.6 1209.6,1383.5 1211.1,1382.2 1212.6,1380.5 1214.1,1378.4 1215.1,1376.6 1216.1,1374.5 1217.1,1371.9 1218.1,1368.7 1218.6,1366.8 1219.6,1362.2 1220.1,1359.4 1221.1,1352.6 1221.6,1348.3 1222.6,1337.4 1223.6,1321.9 1224.1,1311.5 1224.6,1298.6 1225.1,1282.4 1225.6,1261.6 1226.1,1234.2 1226.6,1197.3 1227.1,1145.7 1227.6,1070.5 1228.1,954.9 1228.6,763.7 1229.1,413.8 1229.6,-148"/>
<path d="M1232.6,-148 1233.1,413.8 1233.6,763.7 1234.1,954.9 1234.6,1070.5 1235.1,1145.7 1235.6,1197.3 1236.1,1234.2 1236.6,1261.6 1237.1,1282.4 1237.6,1298.6 1238.1,1311.5 1238.6,1321.9 1239.6,1337.4 1240.6,1348.3 1241.1,1352.6 1242.1,1359.4 1242.6,1362.2 1243.6,1366.8 1244.1,1368.7 1245.1,1371.9 1246.1,1374.5 1247.1,1376.6 1248.1,1378.4 1249.6,1380.5 1250.6,1381.7 1252.1,1383.1 1253.6,1384.3 1255.6,1385.5 1257.6,1386.4 1259.6,1387.2 1262.1,1387.9 1265.1,1388.6 1268.1,1389.1 1271.6,1389.6 1275.6,1390 1280.1,1390.3 1290.6,1390.7 1303.1,1390.9 1315.1,1390.7 1325.1,1390.3 1329.1,1390 1333.1,1389.7 1336.6,1389.2 1339.6,1388.7 1342.6,1388 1345.1,1387.3 1347.1,1386.5 1349.1,1385.6 1351.1,1384.4 1352.6,1383.2 1354.1,1381.8 1355.1,1380.7 1356.6,1378.5 1357.6,1376.8 1358.6,1374.7 1359.6,1372.1 1360.6,1368.8 1361.1,1366.9 1362.1,1362.4 1362.6,1359.6 1363.6,1352.7 1364.1,1348.5 1365.1,1337.6 1366.1,1322 1366.6,1311.6 1367.1,1298.8 1367.6,1282.6 1368.1,1261.8 1368.6,1234.4 1369.1,1197.5 1369.6,1145.8 1370.1,1070.7 1370.6,955 1371.1,763.9 1371.6,413.9 1372.1,-148"/>
<path d="M1374.8,-148 1375.3,43.3 1375.8,582.3 1376.3,853.1 1376.8,1007.8 1377.3,1104.4 1377.8,1168.7 1378.3,1213.7 1378.8,1246.3 1379.3,1270.8 1379.8,1289.6 1380.3,1304.3 1380.8,1316.1 1381.3,1325.7 1381.8,1333.5 1382.8,1345.6 1383.8,1354.3 1384.3,1357.8 1385.3,1363.4 1385.8,1365.8 1386.8,1369.6 1387.3,1371.3 1388.3,1374 1389.3,1376.3 1390.3,1378.1 1391.3,1379.7 1392.3,1381 1393.3,1382.1 1394.8,1383.5 1396.3,1384.7 1398.3,1385.9 1400.3,1386.8 1402.3,1387.5 1404.3,1388.2 1406.8,1388.8 1409.8,1389.3 1412.8,1389.8 1419.8,1390.5 1420.3,1384.6 1420.3,951.3 1420.4,1384.6 1429.7,1383.7 1429.8,1100.5 1431.4,1107.9 1432.8,1115.5 1434.1,1123.8 1435.3,1132.2 1436.7,1145.3 1439.8,1178.8 1443.4,1211.6 1447.9,1249.8 1449.9,1263.7 1451.2,1271.7 1452.2,1276.7 1453.4,1280.8 1454.1,1282.7 1454.7,1284.1 1455.2,1284.7 1455.3,1284.6 1455.4,1284.4 1455.6,1283.5 1456.2,1280.3 1456.8,1275.3 1457.3,1266.6 1457.6,1255.5 1458,1232.7 1458.3,1200.1 1458.4,1165.5 1458.4,1109.7 1458.6,684.8 1458.7,-148" stroke-linejoin="bevel"/>
<path d="M1458.9,-148 1459,825.4 1459.1,1078.5 1459.3,1178.3 1459.4,1208.3 1459.6,1234.2 1459.9,1253.3 1460.3,1265.9 1460.7,1273.4 1460.9,1275.6 1461.1,1277.2 1461.6,1279.2 1462.2,1281.2 1463,1283.2 1463.3,1283.6 1463.5,1283.7 1463.7,1283.6 1463.9,1283.3 1464.3,1282 1464.9,1279.6 1465.6,1275.7 1466.2,1271.5 1467.3,1260.8 1467.9,1256 1468.6,1251.9 1471,1239.6 1471.6,1235.4 1472,1231.5 1472.4,1224.3 1472.9,1215.6 1473.6,1194.5 1474.2,1166.8 1474.5,1136.1 1474.8,1101.6 1475.6,953.7 1475.9,848.5 1476.2,733.1 1476.8,244.4 1477.1,-148"/>
<path d="M1477.8,-148 1477.9,465.9 1478.1,738.8 1478.2,780.3 1478.5,822.2 1478.8,864.8 1479.3,908.8 1480.3,978.8 1481.7,1035.7 1482.8,1091.7 1483.4,1130.9 1483.9,1172.5 1484,1180.9 1484.2,1186.5 1485.2,1204.2 1486.3,1225.1 1487,1237.8 1487.7,1248 1488.4,1255.5 1488.9,1259.1 1489.6,1262.6 1490.5,1266.4 1492.3,1273.2 1492.9,1275 1493.5,1276.4 1494.5,1278 1494.8,1278.5 1495.1,1278.6 1495.3,1278.4 1495.6,1277.7 1496.1,1275.7 1496.4,1273.5 1498,1261.6 1499,1252.3 1499.8,1242 1500.8,1226.6 1502.9,1191.7 1503.2,1184.2 1503.4,1169.3 1504,1095.8 1504.5,1037.3 1505.9,953.8 1506.3,922.3 1506.9,851.4 1507.3,774.3 1507.7,680.8 1508.1,542.8 1508.6,339.5 1508.9,148.8 1509,47.8 1509.1,-148"/>
<path d="M1510.6,-148 1510.7,728.7 1510.9,934.9 1511.1,1004.1 1511.4,1054.2 1511.8,1084.3 1513.2,1176.3 1513.7,1196.1 1514.4,1217 1515.3,1237 1516.2,1253.8 1517.2,1267.9 1518.2,1279.4 1519.5,1290.3 1520.9,1299.7 1522.1,1305.3 1522.7,1307.9 1523.4,1310.4 1524.1,1312.3 1524.9,1314.1 1525.6,1315.6 1526.5,1317.1 1527.8,1318.9 1529.2,1320.7 1530.7,1322.2 1532.4,1323.8 1534.6,1325.6 1538.2,1328.1 1539.2,1328.7 1540,1328.8 1540.4,1328.7 1540.9,1328.3 1541.4,1327.7 1541.9,1326.9 1543.5,1323.6 1544.4,1320.8 1545.3,1317.6 1546,1313.9 1546.8,1309.2 1547.4,1304.4 1547.9,1299.4 1548.3,1294.2 1548.9,1284.5 1549.4,1274.9 1549.9,1258.8 1550.2,1240.9 1550.4,1203.9 1550.5,1151.6 1550.9,920.3 1551.6,224.5 1551.8,-148"/>
<path d="M1552.8,-148 1553,617.9 1553.1,926.1 1553.5,1131.1 1553.7,1195.9 1554,1241.5 1554.2,1254.4 1554.5,1266.3 1554.9,1277.7 1555.6,1289.6 1556.1,1297.4 1556.6,1304 1557.4,1310.5 1558.5,1318.4 1559.1,1321.8 1559.7,1324.4 1560.3,1326 1561.1,1327.3 1562.3,1328.7 1563.8,1329.8 1565.1,1330.4 1566.1,1330.8 1567,1331.1 1567.9,1331.2 1569,1331 1570.2,1330.7 1572.7,1329.6 1574.1,1328.8 1575.3,1328 1576.5,1327 1577.4,1326 1578.2,1325 1579,1323.5 1579.7,1321.8 1580.5,1319.7 1581.4,1317 1583.4,1310.2 1585,1303.3 1585.8,1299.6 1586.4,1295.8 1587.5,1287.3 1588.4,1278 1590.3,1255 1590.9,1245.9 1591.4,1237.4 1591.6,1229.3 1591.9,1216.2 1592.3,1195.2 1592.6,1167.4 1593.3,1071.8 1593.8,970.2 1594.2,839.5 1594.5,649.2 1594.9,345.5 1595.1,88.7 1595.2,-148"/>
<path d="M1596.4,-148 1596.5,56.3 1596.9,194.4 1597.6,375 1599.3,774.1 1599.9,977 1600.2,1023.4 1600.5,1054.9 1601.1,1092.1 1602.4,1148.6 1603.3,1180.9 1604.6,1224.4 1605.4,1243.8 1606.1,1257.5 1606.8,1268.7 1607.5,1278.9 1608.4,1287.7 1609.4,1294.9 1610.5,1301.2 1611.7,1306.2 1612.7,1309.3 1613.3,1310.9 1613.8,1311.8 1614.1,1312 1614.3,1312.1 1614.6,1312 1614.8,1311.7 1615.5,1310.7 1616.7,1307.7 1617.3,1306.1 1618,1303.8 1618.6,1301.2 1620.2,1293.5 1621.5,1285.8 1622.7,1276.9 1624.3,1263.1 1625.4,1252.7 1625.9,1245.9 1626.4,1239.1 1626.7,1233.1 1627,1225.1 1627.6,1200.1 1628.2,1164.4 1629.2,1083.8 1631,899.3 1632.1,762.1 1632.8,644.6 1633.8,408.7 1634.6,181.5 1634.8,56.8 1634.9,-148"/>
<path d="M1635.5,-148 1635.6,224.7 1636,656.7 1636.5,915.4 1637.2,1115.8 1637.4,1146.5 1637.7,1172.3 1638.4,1212.2 1639,1237.1 1639.2,1243.5 1639.6,1249.8 1640.8,1267 1641.8,1282.2 1642.6,1291.3 1642.9,1294 1643.1,1294.9 1643.2,1294.1 1643.3,1291.8 1643.5,1282.1 1643.9,1258.3 1644.1,1231.3 1644.5,1156 1644.8,1072.1 1645.1,692.6 1645.9,129.4 1646,-148"/>
<path d="M1646.2,-148 1646.3,602.7 1646.5,845.2 1646.7,963.6 1647,1059.3 1647.7,1189.2 1648,1292.7 1648.2,1306.6 1648.3,1311.2 1648.5,1313.9 1648.9,1316.4 1649.6,1319.4 1650.4,1321.8 1651.4,1323.9 1652.4,1325.4 1653.8,1326.8 1656,1328.5 1658.5,1330 1661.2,1331.3 1664.2,1332.3 1667.8,1333.2 1672.8,1334.1 1676.5,1334.5 1680,1334.7 1683.3,1334.5 1686.9,1334.1 1690.9,1333.5 1695.3,1332.7 1697.5,1332 1700,1331.1 1702.8,1329.9 1705.6,1328.4 1707.9,1327 1710.1,1325.5 1711.9,1324 1713.7,1322.2 1715.7,1319.9 1717.6,1317.3 1719.1,1314.8 1720.3,1312.5 1721.4,1310.1 1722.4,1307.3 1723.5,1304.1 1724.5,1300.7 1725.6,1296.6 1726.4,1293 1727.1,1289.7 1727.5,1286.6 1728.8,1276 1730.1,1266.7 1730.6,1262.3 1732.1,1241 1733,1222.6 1733.8,1198.6 1734.4,1176.1 1734.9,1148.7 1735.3,1118.2 1735.8,1062.6 1736.1,1022.6 1736.9,857 1737.2,738 1737.5,513.1 1737.7,164.3 1737.9,-148"/>
<path d="M1738.9,-148 1738.9,92.4 1739.1,338.3 1739.4,574.9 1739.8,730.2 1740.1,798.6 1740.7,865.4 1741.7,946.3 1742,962.8 1742.2,966.7 1742.3,968 1742.4,966.7 1742.6,962.8 1742.9,946.3 1743.9,865.4 1744.5,796.9 1744.8,726.3 1745.2,582.4 1745.5,366.9 1745.8,101.1 1745.9,-148"/>
<path d="M1747,-148 1747.3,575.2 1747.4,761.4 1747.7,904.4 1748,996.5 1748.3,1050.1 1749.4,1127.7 1749.7,1144.7 1750.2,1164.5 1751.9,1229.6 1752.4,1241.8 1752.9,1252.3 1753.4,1258.8 1754,1266.5 1755.6,1281.2 1756.2,1286 1756.8,1290 1757.5,1294.2 1758.2,1297.6 1758.9,1300.4 1759.7,1302.7 1760.6,1304.9 1762,1307.7 1763.3,1310 1764.6,1311.8 1765.8,1313.3 1767.4,1314.8 1769.5,1316.5 1772.3,1318.4 1774.2,1319.6 1775.8,1320.4 1778.3,1321.1 1781.4,1321.8 1783.9,1322.2 1786,1322.3 1788.6,1322.1 1791.6,1321.6 1796,1320.6 1798.9,1319.6 1802,1318.2 1805.1,1316.6 1807.6,1314.9 1810.2,1312.9 1812.4,1310.8 1814.6,1308.3 1816.7,1305.6 1818.4,1303 1819.8,1300.3 1821.1,1297.2 1822.4,1293.5 1823.6,1289.7 1824.5,1286 1825.4,1281.8 1826.4,1276.1 1827.2,1271.1 1829,1256.8 1830.1,1243.9 1831.1,1230.5 1831.9,1213.8 1833.5,1177.4 1834.7,1146.7 1836.1,1109.8 1836.6,1091.1 1837.2,1063.7 1837.8,1026.4 1838.4,972.4 1839,906.7 1840,785.9 1840.4,722.9 1840.6,662.5 1840.6,569.3 1840.9,-148"/>
<path d="M1841.9,-148 1842.1,365.3 1842.5,879.5 1842.7,976.4 1842.9,1042.1 1843.1,1074.4 1843.5,1106.9 1844.5,1161.3 1845,1182.7 1845.6,1200.4 1846.2,1212.5 1846.9,1223.7 1847.9,1236 1849,1247.5 1850.2,1257.1 1851.4,1265.4 1852.7,1271.9 1853.3,1274.3 1853.9,1276.4 1854.8,1278.5 1855.7,1280.6 1856.9,1282.6 1858.1,1284.5 1860,1286.7 1861.6,1288.3 1862.6,1289.1 1863.1,1289.3 1863.5,1289.3 1863.8,1289.3 1864.3,1289.1 1865.1,1288.3 1866,1287.2 1867.8,1284.5 1868.7,1282.7 1869.7,1280.7 1870.5,1278.6 1871.1,1276.7 1872,1272.5 1872.9,1266.6 1873.8,1258.8 1874.7,1248.8 1876.4,1228.9 1877.2,1219.1 1877.8,1208.8 1878.3,1198 1878.8,1180 1879.4,1157.7 1880.4,1095.2 1881,1042.9 1881.4,961.4 1881.9,837.5 1882.3,690.6 1882.6,497.6 1882.9,247.9 1883.1,67.6 1883.2,-148"/>
<path d="M1886.9,-148 1887.1,633.1 1887.3,798.3 1887.5,936.9 1887.8,1019.8 1888,1061.9 1888.4,1087.2 1890.1,1189.7 1890.8,1213.9 1891.4,1229.1 1891.8,1234.8 1892.3,1239.2 1892.7,1242 1893.4,1244.6 1894.6,1248.3 1896.3,1252.5 1896.9,1253.4 1897.3,1254 1897.7,1254.2 1898,1254.1 1898.6,1253.7 1899.3,1252.6 1900.6,1249.9 1901.3,1248.4 1902,1246.4 1902.7,1244.2 1903.8,1239.6 1904.4,1236.4 1905,1232.3 1906.1,1221.5 1908.2,1194.5 1909.6,1172.5 1910.5,1156.9 1911.9,1128.5 1913.6,1103.5 1913.6,1076.8"/>
</g>
<path d="M222.2,1432.9 233.9,1432.9 239.9,1432.7 243.9,1432.5 245.2,1432.3 246.2,1432 247.9,1430.9 248.7,1429.2 249.2,1427.1 249.7,1423 250.1,1418.1 250.7,1370.2 250.9,1154 251.2,642.5 251.3,38 251.4,8 252.9,8 253.1,38 253.2,642.5 253.4,1154 253.8,1370.2 254.3,1418.1 254.7,1423 255.1,1426.6 255.7,1429.2 256.6,1430.9 258.2,1432 259.9,1432.4 262.2,1432.6 267.2,1432.7 273.1,1432.7 275.1,1432.6 277.1,1432.4 278.1,1432.2 279.1,1432 280.8,1430.9 281.6,1429.2 281.9,1428.2 282.2,1426.6 282.6,1423 283,1418.1 283.6,1370.2 283.9,1241.2 285.1,442.5 286.4,1241.2 286.6,1370.2 287.2,1418.1 287.9,1426 288.6,1429.2 289.4,1430.9 291.1,1432 292.1,1432.3 293.9,1432.5 297.1,1432.7 301.9,1432.8 307.9,1432.8 317,1432.7 319.9,1432.5 322,1432.3 323,1432 324.6,1431 325.5,1429.2 326,1427.1 326.5,1423 326.9,1418.1 327.4,1370.2 327.8,1268.3 329,582 330.2,1268.3 330.6,1370.2 331.1,1418.1 331.5,1423 332,1427.1 332.5,1429.2 333.4,1431 335,1432 335.9,1432.3 337,1432.4 339,1432.6 341.9,1432.8 349.9,1432.9 369.9,1432.9 395.9,1432.9 405.9,1432.8 411.9,1432.6 413.9,1432.5 415.9,1432.3 416.9,1432.1 417.9,1431.8 419.6,1430.7 419.9,1430.1 420.4,1428.9 420.9,1426.8 421.4,1422.6 421.8,1417.6 422.4,1369.6 422.6,1153.4 422.9,641.8 423,37.3 423.1,8 424.6,8 424.8,36.6 424.9,641 425.1,1152.4 425.4,1368.4 426,1415.8 426.6,1421.8 426.9,1422.4 427.1,1422.4 427.4,1421.8 428,1415.8 428.6,1368.4 428.9,1282 430.1,660.2 431.4,1283 431.6,1369.6 432.2,1417.6 432.6,1422.6 433.1,1426.8 433.6,1428.9 434.4,1430.7 436.1,1431.8 437.1,1432.1 438.1,1432.3 439.9,1432.5 441.9,1432.6 447.9,1432.8 469.9,1432.9 509.9,1432.9 521.9,1432.7 525.8,1432.5 527.8,1432.4 528.8,1432.2 529.8,1431.9 531.5,1430.9 531.9,1430.1 532.3,1429.1 532.8,1427 533.3,1422.9 533.7,1418 534.2,1370.1 534.5,1174.6 535.8,98.3 537,1174.5 537.4,1370.1 537.9,1418 538.3,1422.9 538.8,1427 539.3,1429.1 539.9,1430.5 540.1,1430.8 541.8,1431.9 542.8,1432.1 543.9,1432.3 545.8,1432.5 547.9,1432.5 555,1432.6 561.9,1432.5 564,1432.3 565.9,1432.2 567,1432 568,1431.7 569.6,1430.6 569.9,1430.3 570.5,1428.9 571,1426.8 571.5,1422.7 571.9,1417.7 572.5,1369.8 572.8,1308.4 574,790.9 575.2,1308.3 575.5,1369.8 576.1,1417.6 576.5,1422.6 577,1426.7 577.5,1428.8 577.9,1429.7 578.4,1430.5 580,1431.5 581,1431.7 582,1431.8 583.9,1432 586,1432 589,1431.9 591.9,1431.8 595.9,1431.4 599.2,1430.8 601.9,1430.1 604,1429.3 605.9,1428.2 607.9,1426.5 608.2,1426.1 609.9,1423.7 611.2,1420.8 612.2,1417.8 613.2,1413.8 613.9,1410.2 614.7,1405.3 616.6,1390.7 617,1153.9 617.2,642.4 617.3,37.9 617.5,8 619,8 619.1,37.9 619.2,642.4 619.5,1153.9 619.8,1390.7 621.7,1405.3 622.5,1410.5 623.2,1413.8 624.2,1417.8 625.2,1420.8 626.2,1423.1 627.9,1425.8 628.2,1426.1 629.9,1427.8 631,1428.5 631.9,1429.1 633.9,1429.9 635.9,1430.5 637,1430.8 639.9,1431.3 641.9,1431.5 643.9,1431.7 647.9,1431.9 651.9,1431.9 653.9,1431.7 655,1431.5 656.6,1430.4 657.5,1428.7 658,1426.6 658.5,1422.6 658.9,1417.6 659.5,1369.7 659.8,1153.5 660,642 660.1,37.5 660.2,8 661.8,8 661.9,37.5 662,642 662.2,1153.5 662.5,1369.8 663.1,1417.7 663.5,1422.6 663.9,1426.2 664.5,1428.9 665.4,1430.6 667,1431.7 667.9,1431.9 669,1432.1 671.9,1432.4 676,1432.5 681.9,1432.4 684.9,1432.2 685.9,1432.1 686.9,1431.8 688.5,1430.8 689.4,1429.1 689.9,1427 690.4,1422.9 690.8,1417.9 691.4,1370 691.6,1153.8 691.9,642.3 692,37.8 692.1,8 693.6,8 693.8,37.8 693.9,642.3 694.1,1153.8 694.5,1370 695,1417.9 695.4,1422.9 695.9,1427 696.4,1429.1 697.2,1430.8 698.9,1431.9 699.9,1432.1 701.9,1432.4 705.9,1432.6 715.9,1432.8 727.9,1432.7 730.9,1432.7 733.9,1432.5 735.9,1432.2 736.9,1432 738.5,1430.9 739.4,1429.2 739.9,1427.1 740.4,1423 740.8,1418 741.4,1370.1 741.6,1153.9 741.9,642.4 742,37.9 742.1,8 743.6,8 743.8,37.9 743.9,642.4 744.1,1153.9 744.5,1370.1 745,1418 745.4,1423 745.9,1427.1 746.4,1429.2 747.2,1430.9 748.9,1432 749.9,1432.2 751.9,1432.5 755.9,1432.7 767.9,1432.9 781.9,1432.8 785.9,1432.7 787.9,1432.5 789.7,1432.3 790.7,1432 792.4,1431 793.2,1429.2 793.9,1426.1 794.6,1418.1 795.1,1370.2 795.5,1154 795.7,642.5 795.8,38 795.9,8 797.5,8 797.6,38 797.7,642.5 798,1154 798.2,1370.2 798.8,1418.1 799.2,1423 799.7,1427.1 799.9,1428.2 800.2,1429.2 801,1431 802.7,1432 803.7,1432.3 804.7,1432.4 807.9,1432.7 813.9,1432.8 837.9,1432.9 905.9,1432.9 921.9,1432.9 925.9,1432.8 929.2,1432.6 931.2,1432.5 932.2,1432.3 933.2,1432.1 934.9,1431 935.9,1428.8 936.2,1427.2 936.7,1423.1 937.1,1418.1 937.6,1370.2 938,1154 938.2,642.5 938.3,38 938.5,8 940,8 940.1,38 940.2,642.5 940.5,1154 940.8,1370.2 941.3,1418.1 941.9,1425.5 942.2,1427.2 942.7,1429.3 943.5,1431 945.2,1432.1 946.2,1432.3 947.9,1432.5 951.9,1432.8 958.2,1432.9 969.9,1432.9 1035.9,1433 1063.9,1432.9 1069.9,1432.8 1073.9,1432.7 1077.2,1432.5 1078.2,1432.3 1079.2,1432.1 1080.8,1431 1081.7,1429.3 1081.9,1428.5 1082.2,1427.2 1082.7,1423.1 1083,1418.1 1083.6,1370.2 1083.9,1154 1084.2,642.5 1084.2,38 1084.4,8 1085.9,8 1086,38 1086.2,642.5 1086.4,1154 1086.7,1370.2 1087.2,1418.1 1087.9,1425.8 1088.2,1427.2 1088.7,1429.3 1089.5,1431 1091.2,1432.1 1092.2,1432.3 1093.9,1432.5 1097.9,1432.8 1104.2,1432.9 1115.9,1433 1181.9,1433 1209.9,1432.9 1215.9,1432.8 1219.9,1432.7 1223.1,1432.5 1224.1,1432.3 1225.1,1432.1 1226.8,1431 1227.6,1429.3 1227.9,1428.3 1228.1,1427.2 1228.6,1423.1 1229,1418.1 1229.5,1370.2 1229.8,1154 1230.1,642.5 1230.2,38 1230.3,8 1231.9,8 1232,38 1232.1,642.5 1232.3,1154 1232.7,1370.2 1233.2,1418.1 1233.6,1423.1 1233.9,1426.1 1234.1,1427.2 1234.6,1429.3 1235.5,1431 1237.1,1432.1 1238.1,1432.3 1239.1,1432.5 1241.1,1432.6 1243.1,1432.7 1253.9,1432.9 1283.9,1433 1341.9,1432.9 1353.9,1432.9 1359.9,1432.8 1363.9,1432.6 1366.6,1432.3 1367.6,1432 1369.2,1431 1370.1,1429.2 1370.6,1427.1 1371.1,1423 1371.5,1418.1 1372,1370.2 1372.3,1154 1372.6,642.5 1372.7,38 1372.8,8 1374.3,8 1374.5,38 1374.6,642.5 1374.8,1154 1375.2,1370.2 1375.7,1418.1 1376.1,1423 1376.6,1427.1 1377.1,1429.2 1377.9,1430.9 1379.6,1432 1380.6,1432.3 1381.9,1432.5 1383.9,1432.6 1387.9,1432.8 1392.6,1432.8 1409.9,1432.8 1415.4,1432.7 1417.9,1432.5 1419.9,1432.3 1421.4,1432 1423,1430.9 1423.9,1429.2 1424.4,1427.1 1424.9,1423 1425.3,1418 1425.8,1370.1 1426.2,1153.9 1426.4,642.4 1426.5,37.9 1426.7,8 1428.2,8 1428.3,37.9 1428.4,642.4 1428.7,1153.9 1429,1370.1 1429.5,1418 1429.9,1423 1430.4,1427.1 1430.9,1429.2 1431.8,1430.9 1433.4,1432 1434.4,1432.2 1435.9,1432.4 1439.4,1432.7 1445.9,1432.8 1453.4,1432.8 1462.4,1432.7 1467.9,1432.5 1469.9,1432.2 1471.4,1431.9 1473,1430.8 1473.9,1429.1 1474.4,1427 1474.9,1422.9 1475.3,1417.9 1475.8,1370 1476.2,1153.8 1476.4,642.3 1476.5,37.8 1476.7,8 1478.2,8 1478.3,37.8 1478.4,642.3 1478.7,1153.8 1479,1370 1479.5,1417.9 1479.9,1422.9 1480.4,1427 1480.9,1429.1 1481.8,1430.8 1483.4,1431.8 1484.4,1432.1 1485.9,1432.3 1489.4,1432.5 1495.9,1432.4 1499.9,1432.2 1501.9,1432 1503.3,1431.7 1505,1430.6 1505.9,1428.6 1506.3,1426.8 1506.8,1422.6 1507.2,1417.7 1507.8,1369.8 1508,1153.5 1508.3,642 1508.4,37.5 1508.5,8 1510,8 1510.2,37.5 1510.3,642 1510.5,1153.5 1510.8,1369.7 1511.4,1417.6 1511.9,1423.8 1512.3,1426.6 1512.8,1428.7 1513.7,1430.4 1515.3,1431.5 1516.3,1431.7 1517.9,1431.8 1519.9,1431.9 1522.1,1431.9 1525.9,1431.7 1528.3,1431.5 1531.9,1431 1533.9,1430.6 1535.9,1430.1 1537.9,1429.3 1539.3,1428.5 1540.1,1428 1542.1,1426.1 1543.9,1423.5 1545.1,1420.8 1545.9,1418.5 1547.1,1413.8 1547.9,1409.7 1548.6,1405.3 1550.5,1390.7 1550.8,1153.9 1551.1,642.4 1551.2,37.9 1551.3,8 1552.8,8 1553,37.9 1553.1,642.4 1553.3,1153.9 1553.7,1390.7 1555.1,1401.7 1555.9,1407.2 1556.5,1410.5 1557.1,1413.8 1557.9,1417.1 1559.1,1420.8 1560.1,1423.1 1561.9,1425.9 1564.1,1428 1565.9,1429.1 1567.9,1430 1569.9,1430.6 1571.1,1430.8 1573.9,1431.3 1577.9,1431.7 1581.3,1431.9 1583.9,1432 1586.3,1432 1587.9,1431.9 1589.3,1431.7 1590.3,1431.5 1592,1430.5 1592.8,1428.8 1593.3,1426.7 1593.8,1422.6 1594.2,1417.6 1594.8,1369.8 1595,1308.3 1596.3,790.9 1597.5,1308.4 1597.8,1369.8 1598.4,1417.7 1598.8,1422.7 1599.3,1426.8 1599.8,1428.9 1600.7,1430.6 1602.3,1431.7 1603.3,1432 1604.3,1432.1 1605.9,1432.3 1608.3,1432.5 1615.3,1432.6 1621.9,1432.6 1624.5,1432.5 1626.3,1432.3 1627.5,1432.1 1628.5,1431.9 1630.2,1430.8 1631,1429.1 1631.5,1427 1631.9,1424.2 1632.4,1418 1633,1370.1 1633.2,1174.5 1634.5,98.3 1635.9,1303.7 1636,1370.1 1636.6,1418 1637,1422.9 1637.5,1427 1637.9,1428.9 1638.8,1430.9 1640.5,1431.9 1641.5,1432.2 1642.5,1432.4 1644.5,1432.5 1647.9,1432.7 1659.9,1432.9 1699.9,1432.9 1722.4,1432.8 1728.2,1432.6 1730.2,1432.5 1732.2,1432.3 1733.2,1432.1 1734.2,1431.8 1735.9,1430.6 1736.7,1428.9 1737.2,1426.8 1737.7,1422.6 1738.1,1417.6 1738.7,1369.6 1739,1283 1740.2,660.2 1741.5,1282 1741.8,1368.4 1742.3,1415.8 1742.9,1421.8 1743.2,1422.4 1743.4,1422.4 1743.7,1421.8 1744.3,1415.8 1744.8,1368.4 1745.2,1152.4 1745.4,641 1745.5,36.6 1745.7,8 1747.2,8 1747.3,37.3 1747.4,641.8 1747.7,1153.4 1748,1369.6 1748.5,1417.6 1748.9,1422.6 1749.4,1426.8 1749.9,1428.9 1750.8,1430.7 1752.4,1431.8 1753.4,1432.1 1754.4,1432.3 1755.9,1432.5 1758.4,1432.6 1764.2,1432.8 1773.9,1432.9 1801.9,1432.9 1821.9,1432.9 1829.9,1432.7 1831.9,1432.6 1833.9,1432.3 1835.3,1432 1837,1431 1837.9,1429 1838.3,1427.1 1838.8,1423 1839.2,1418.1 1839.8,1370.2 1839.9,1350.6 1841.3,582 1842.5,1268.3 1842.8,1370.2 1843.4,1418.1 1843.9,1424.3 1844.3,1427.1 1844.8,1429.2 1845.7,1431 1847.3,1432 1847.9,1432.2 1849.3,1432.4 1851.9,1432.6 1855.2,1432.8 1859.9,1432.8 1871.3,1432.8 1875.2,1432.6 1877.2,1432.4 1878.2,1432.3 1879.2,1432 1880.8,1430.9 1881.9,1428.8 1882.2,1427.1 1882.7,1423 1883.1,1418.1 1883.7,1370.2 1883.9,1273.2 1885.2,442.5 1886.5,1241.2 1886.8,1370.2 1887.3,1418.1 1887.9,1425.5 1888.2,1427.1 1888.7,1429.2 1889.5,1430.9 1891.2,1432 1892.2,1432.2 1893.2,1432.4 1895.2,1432.6 1897.2,1432.7 1903.1,1432.7 1907.9,1432.6 1910.1,1432.4 1911.9,1432.1 1912.1,1432 1913.9,1430.8 1914.6,1429.2 1915.2,1426.6 1915.6,1423 1916,1418.1 1916.5,1370.2 1916.8,1154 1917.1,642.5 1917.2,38 1917.3,8 1918.8,8 1919,38 1919.1,642.5 1919.3,1154 1919.7,1370.2 1920.2,1418.1 1920.6,1423 1921.1,1427.1 1921.6,1429.2 1922.5,1431 1924.1,1432 1925.1,1432.3 1926.1,1432.4 1927.9,1432.6 1930.1,1432.7 1935.9,1432.9 1948.1,1432.9" fill="none" stroke="#0000ff" stroke-width="4.1" stroke-linejoin="bevel"/>
</g>
<path d="M292.6,1434 L292.6,1412.5" stroke="#000" stroke-width="2.1" fill="none"/>
<path d="M405.9,1434 L405.9,1395.5" stroke="#000" stroke-width="2.1" fill="none"/>
<path d="M519.2,1434 L519.2,1412.5" stroke="#000" stroke-width="2.1" fill="none"/>
<path d="M632.5,1434 L632.5,1412.5" stroke="#000" stroke-width="2.1" fill="none"/>
<path d="M745.7,1434 L745.7,1395.5" stroke="#000" stroke-width="2.1" fill="none"/>
<path d="M859,1434 L859,1412.5" stroke="#000" stroke-width="2.1" fill="none"/>
<path d="M972.3,1434 L972.3,1412.5" stroke="#000" stroke-width="2.1" fill="none"/>
<path d="M1085.6,1434 L1085.6,1395.5" stroke="#000" stroke-width="2.1" fill="none"/>
<path d="M1198.9,1434 L1198.9,1412.5" stroke="#000" stroke-width="2.1" fill="none"/>
<path d="M1312.2,1434 L1312.2,1412.5" stroke="#000" stroke-width="2.1" fill="none"/>
<path d="M1425.5,1434 L1425.5,1395.5" stroke="#000" stroke-width="2.1" fill="none"/>
<path d="M1538.7,1434 L1538.7,1412.5" stroke="#000" stroke-width="2.1" fill="none"/>
<path d="M1652,1434 L1652,1412.5" stroke="#000" stroke-width="2.1" fill="none"/>
<path d="M1765.3,1434 L1765.3,1395.5" stroke="#000" stroke-width="2.1" fill="none"/>
<path d="M1878.6,1434 L1878.6,1412.5" stroke="#000" stroke-width="2.1" fill="none"/>
<path d="M377.6,38 L377.6,59.5" stroke="#000" stroke-width="2.1" fill="none"/>
<path d="M519.2,38 L519.2,59.5" stroke="#000" stroke-width="2.1" fill="none"/>
<path d="M660.8,38 L660.8,76.5" stroke="#000" stroke-width="2.1" fill="none"/>
<path d="M802.4,38 L802.4,59.5" stroke="#000" stroke-width="2.1" fill="none"/>
<path d="M944,38 L944,59.5" stroke="#000" stroke-width="2.1" fill="none"/>
<path d="M1085.6,38 L1085.6,76.5" stroke="#000" stroke-width="2.1" fill="none"/>
<path d="M1227.2,38 L1227.2,59.5" stroke="#000" stroke-width="2.1" fill="none"/>
<path d="M1368.8,38 L1368.8,59.5" stroke="#000" stroke-width="2.1" fill="none"/>
<path d="M1510.4,38 L1510.4,76.5" stroke="#000" stroke-width="2.1" fill="none"/>
<path d="M1652,38 L1652,59.5" stroke="#000" stroke-width="2.1" fill="none"/>
<path d="M1793.6,38 L1793.6,59.5" stroke="#000" stroke-width="2.1" fill="none"/>
<path d="M235.9,1200.5 L257.4,1200.5" stroke="#000" stroke-width="2.3" fill="none"/>
<path d="M1935,1200.5 L1913.5,1200.5" stroke="#000" stroke-width="2.3" fill="none"/>
<path d="M235.9,968 L274.4,968" stroke="#000" stroke-width="2.3" fill="none"/>
<path d="M1935,968 L1896.5,968" stroke="#000" stroke-width="2.3" fill="none"/>
<path d="M235.9,735.5 L257.4,735.5" stroke="#000" stroke-width="2.3" fill="none"/>
<path d="M1935,735.5 L1913.5,735.5" stroke="#000" stroke-width="2.3" fill="none"/>
<path d="M235.9,503 L274.4,503" stroke="#000" stroke-width="2.3" fill="none"/>
<path d="M1935,503 L1896.5,503" stroke="#000" stroke-width="2.3" fill="none"/>
<path d="M235.9,270.5 L257.4,270.5" stroke="#000" stroke-width="2.3" fill="none"/>
<path d="M1935,270.5 L1913.5,270.5" stroke="#000" stroke-width="2.3" fill="none"/>
<rect x="235.9" y="38" width="1699.1" height="1396" fill="none" stroke="#000" stroke-width="2.3"/>
<rect x="733" y="53.4" width="803" height="231.8" fill="#fff"/>
<rect x="763.2" y="85.2" width="107.4" height="32.1" fill="#808080" fill-opacity="0.4"/>
<rect x="763.2" y="85.2" width="107.4" height="32.1" fill="none" stroke="#b4b4b4" stroke-opacity="0.45" stroke-width="6.6"/>
<path d="M761,168.4 L873,168.4" stroke="#0000ff" stroke-width="5" fill="none"/>
<rect x="763.2" y="220.5" width="107.4" height="32.1" fill="#ff8000" fill-opacity="0.5"/>
<rect x="763.2" y="220.5" width="107.4" height="32.1" fill="none" stroke="#ff8000" stroke-opacity="0.5" stroke-width="6.6"/>
<text transform="translate(221.6,63.8) scale(1.12,1)" text-anchor="end" style="font-family:'Liberation Sans',sans-serif;font-weight:bold;font-size:76.5px;letter-spacing:-3.2px">0.3</text>
<text transform="translate(221.6,528.8) scale(1.12,1)" text-anchor="end" style="font-family:'Liberation Sans',sans-serif;font-weight:bold;font-size:76.5px;letter-spacing:-3.2px">0.2</text>
<text transform="translate(221.6,993.8) scale(1.12,1)" text-anchor="end" style="font-family:'Liberation Sans',sans-serif;font-weight:bold;font-size:76.5px;letter-spacing:-3.2px">0.1</text>
<text transform="translate(221.6,1458.8) scale(1.12,1)" text-anchor="end" style="font-family:'Liberation Sans',sans-serif;font-weight:bold;font-size:76.5px;letter-spacing:-3.2px">0</text>
<text transform="translate(408.9,1517.8) scale(1.12,1)" text-anchor="middle" style="font-family:'Liberation Sans',sans-serif;font-weight:bold;font-size:76.5px"><tspan style="font-size:62px;stroke:#000;stroke-width:1.6px">−</tspan>4</text>
<text transform="translate(748.7,1517.8) scale(1.12,1)" text-anchor="middle" style="font-family:'Liberation Sans',sans-serif;font-weight:bold;font-size:76.5px"><tspan style="font-size:62px;stroke:#000;stroke-width:1.6px">−</tspan>2</text>
<text transform="translate(1086.1,1517.8) scale(1.12,1)" text-anchor="middle" style="font-family:'Liberation Sans',sans-serif;font-weight:bold;font-size:76.5px">0</text>
<text transform="translate(1427.5,1517.8) scale(1.12,1)" text-anchor="middle" style="font-family:'Liberation Sans',sans-serif;font-weight:bold;font-size:76.5px">2</text>
<text transform="translate(1765.3,1517.8) scale(1.12,1)" text-anchor="middle" style="font-family:'Liberation Sans',sans-serif;font-weight:bold;font-size:76.5px">4</text>
<text transform="translate(1096.5,1627.2) scale(0.97,1)" text-anchor="middle" style="font-family:'Liberation Sans',sans-serif;font-size:82px">energy( eV)</text>
<text transform="translate(78.5,735.1) rotate(-90) scale(0.9465,1)" text-anchor="middle" style="font-family:'Liberation Sans',sans-serif;font-size:87px">DOS (a.u.)</text>
<text transform="translate(894.8,120.5) scale(0.955,1)" text-anchor="start" style="font-family:'Liberation Sans',sans-serif;font-size:47.5px">5-AGNR</text>
<text transform="translate(894.8,187.3) scale(0.982,1)" text-anchor="start" style="font-family:'Liberation Sans',sans-serif;font-size:47.5px">(10,10) CNT</text>
<text transform="translate(894.8,255.5) scale(0.9875,1)" text-anchor="start" style="font-family:'Liberation Sans',sans-serif;font-size:47.5px">5-AGNR/(10,10)CNT/5-AGNR</text>
</svg>
</body></html>
